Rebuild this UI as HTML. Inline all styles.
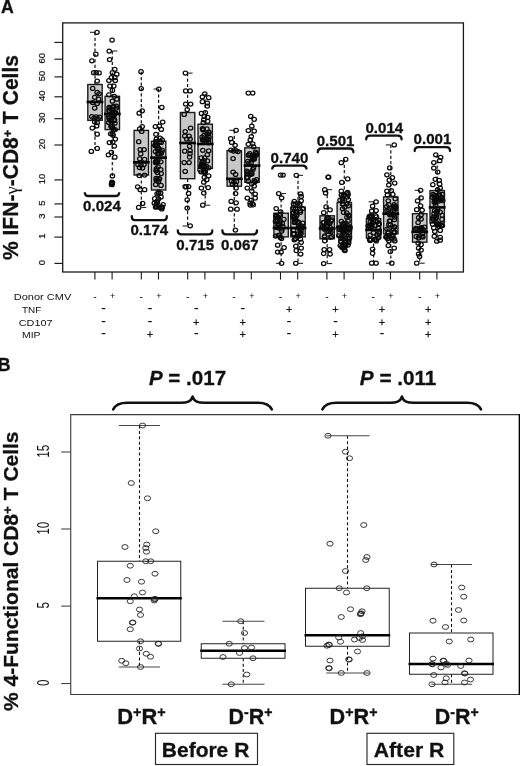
<!DOCTYPE html>
<html><head><meta charset="utf-8"><title>Figure</title><style>
html,body{margin:0;padding:0;background:#fff;}
svg{display:block;font-family:"Liberation Sans", Arial, sans-serif;will-change:transform;}
text{fill:#111;}
.gm{font-family:"Liberation Serif",serif;}
.pa ellipse{fill:none;stroke:#0a0a0a;stroke-width:1.25;}
.pa .wh{stroke:#111;stroke-width:1.2;stroke-dasharray:3.2 2.2;}
.pa .cap{stroke:#111;stroke-width:1;}
.pa .bx{fill:#c8c8c8;stroke:#1c1c1c;stroke-width:1.4;}
.pa .md{stroke:#000;stroke-width:2.6;}
.br{fill:none;stroke:#111;stroke-width:2.3;stroke-linecap:round;}
.brc{fill:none;stroke:#111;stroke-width:2.6;stroke-linecap:round;stroke-linejoin:round;}
text[font-weight=bold]{stroke:#111;stroke-width:0.3;}
.pb ellipse{fill:none;stroke:#222;stroke-width:0.9;}
.pb .wh{stroke:#111;stroke-width:1.1;stroke-dasharray:3 2.4;}
.pb .cap{stroke:#333;stroke-width:0.9;}
.pb .bx{fill:none;stroke:#222;stroke-width:1;}
.pb .md{stroke:#000;stroke-width:2.5;}
</style></head>
<body><svg width="520" height="766" viewBox="0 0 520 766">
<rect width="520" height="766" fill="#fff"/>
<rect x="62.7" y="22.9" width="400.7" height="249.1" fill="none" stroke="#1a1a1a" stroke-width="1.3"/>
<line x1="54.4" y1="263.4" x2="62.7" y2="263.4" stroke="#1a1a1a" stroke-width="1.15"/>
<text transform="translate(44.9,262.5) rotate(-90)" text-anchor="middle" font-size="8.5" fill="#111" stroke="#111" stroke-width="0.2" textLength="5.25" lengthAdjust="spacingAndGlyphs">0</text>
<line x1="54.4" y1="237.1" x2="62.7" y2="237.1" stroke="#1a1a1a" stroke-width="1.15"/>
<text transform="translate(44.9,236.2) rotate(-90)" text-anchor="middle" font-size="8.5" fill="#111" stroke="#111" stroke-width="0.2" textLength="5.25" lengthAdjust="spacingAndGlyphs">1</text>
<line x1="54.4" y1="217.0" x2="62.7" y2="217.0" stroke="#1a1a1a" stroke-width="1.15"/>
<text transform="translate(44.9,216.1) rotate(-90)" text-anchor="middle" font-size="8.5" fill="#111" stroke="#111" stroke-width="0.2" textLength="5.25" lengthAdjust="spacingAndGlyphs">3</text>
<line x1="54.4" y1="203.9" x2="62.7" y2="203.9" stroke="#1a1a1a" stroke-width="1.15"/>
<text transform="translate(44.9,203.0) rotate(-90)" text-anchor="middle" font-size="8.5" fill="#111" stroke="#111" stroke-width="0.2" textLength="5.25" lengthAdjust="spacingAndGlyphs">5</text>
<line x1="54.4" y1="179.9" x2="62.7" y2="179.9" stroke="#1a1a1a" stroke-width="1.15"/>
<text transform="translate(44.9,179.0) rotate(-90)" text-anchor="middle" font-size="8.5" fill="#111" stroke="#111" stroke-width="0.2" textLength="10.5" lengthAdjust="spacingAndGlyphs">10</text>
<line x1="54.4" y1="145.0" x2="62.7" y2="145.0" stroke="#1a1a1a" stroke-width="1.15"/>
<text transform="translate(44.9,144.1) rotate(-90)" text-anchor="middle" font-size="8.5" fill="#111" stroke="#111" stroke-width="0.2" textLength="10.5" lengthAdjust="spacingAndGlyphs">20</text>
<line x1="54.4" y1="118.7" x2="62.7" y2="118.7" stroke="#1a1a1a" stroke-width="1.15"/>
<text transform="translate(44.9,117.8) rotate(-90)" text-anchor="middle" font-size="8.5" fill="#111" stroke="#111" stroke-width="0.2" textLength="10.5" lengthAdjust="spacingAndGlyphs">30</text>
<line x1="54.4" y1="96.8" x2="62.7" y2="96.8" stroke="#1a1a1a" stroke-width="1.15"/>
<text transform="translate(44.9,95.8) rotate(-90)" text-anchor="middle" font-size="8.5" fill="#111" stroke="#111" stroke-width="0.2" textLength="10.5" lengthAdjust="spacingAndGlyphs">40</text>
<line x1="54.4" y1="76.9" x2="62.7" y2="76.9" stroke="#1a1a1a" stroke-width="1.15"/>
<text transform="translate(44.9,76.0) rotate(-90)" text-anchor="middle" font-size="8.5" fill="#111" stroke="#111" stroke-width="0.2" textLength="10.5" lengthAdjust="spacingAndGlyphs">50</text>
<line x1="54.4" y1="59.2" x2="62.7" y2="59.2" stroke="#1a1a1a" stroke-width="1.15"/>
<text transform="translate(44.9,58.3) rotate(-90)" text-anchor="middle" font-size="8.5" fill="#111" stroke="#111" stroke-width="0.2" textLength="10.5" lengthAdjust="spacingAndGlyphs">60</text>
<line x1="54.4" y1="42.4" x2="62.7" y2="42.4" stroke="#1a1a1a" stroke-width="1.15"/>
<line x1="94.9" y1="272.0" x2="94.9" y2="279.6" stroke="#1a1a1a" stroke-width="1.1"/>
<line x1="112.1" y1="272.0" x2="112.1" y2="279.6" stroke="#1a1a1a" stroke-width="1.1"/>
<line x1="141.3" y1="272.0" x2="141.3" y2="279.6" stroke="#1a1a1a" stroke-width="1.1"/>
<line x1="158.5" y1="272.0" x2="158.5" y2="279.6" stroke="#1a1a1a" stroke-width="1.1"/>
<line x1="187.7" y1="272.0" x2="187.7" y2="279.6" stroke="#1a1a1a" stroke-width="1.1"/>
<line x1="204.9" y1="272.0" x2="204.9" y2="279.6" stroke="#1a1a1a" stroke-width="1.1"/>
<line x1="234.1" y1="272.0" x2="234.1" y2="279.6" stroke="#1a1a1a" stroke-width="1.1"/>
<line x1="251.3" y1="272.0" x2="251.3" y2="279.6" stroke="#1a1a1a" stroke-width="1.1"/>
<line x1="280.5" y1="272.0" x2="280.5" y2="279.6" stroke="#1a1a1a" stroke-width="1.1"/>
<line x1="297.7" y1="272.0" x2="297.7" y2="279.6" stroke="#1a1a1a" stroke-width="1.1"/>
<line x1="326.9" y1="272.0" x2="326.9" y2="279.6" stroke="#1a1a1a" stroke-width="1.1"/>
<line x1="344.1" y1="272.0" x2="344.1" y2="279.6" stroke="#1a1a1a" stroke-width="1.1"/>
<line x1="373.3" y1="272.0" x2="373.3" y2="279.6" stroke="#1a1a1a" stroke-width="1.1"/>
<line x1="390.5" y1="272.0" x2="390.5" y2="279.6" stroke="#1a1a1a" stroke-width="1.1"/>
<line x1="419.7" y1="272.0" x2="419.7" y2="279.6" stroke="#1a1a1a" stroke-width="1.1"/>
<line x1="436.9" y1="272.0" x2="436.9" y2="279.6" stroke="#1a1a1a" stroke-width="1.1"/>
<g class="pa"><line x1="95.0" y1="32.3" x2="95.0" y2="84.5" class="wh"/><line x1="95.0" y1="120.3" x2="95.0" y2="149.4" class="wh"/><line x1="90.0" y1="32.3" x2="95.0" y2="32.3" class="cap"/><rect x="87.8" y="84.5" width="14.4" height="35.8" class="bx"/><line x1="86.6" y1="102" x2="103.4" y2="102" class="md"/><ellipse cx="97.0" cy="32.3" rx="2.2" ry="2.0"/><ellipse cx="95.8" cy="54.2" rx="2.2" ry="2.0"/><ellipse cx="91.9" cy="60.8" rx="2.2" ry="2.0"/><ellipse cx="93.7" cy="72.7" rx="2.2" ry="2.0"/><ellipse cx="96.2" cy="72.7" rx="2.2" ry="2.0"/><ellipse cx="99.1" cy="72.9" rx="2.2" ry="2.0"/><ellipse cx="97.2" cy="81.0" rx="2.2" ry="2.0"/><ellipse cx="92.7" cy="88.4" rx="2.2" ry="2.0"/><ellipse cx="97.2" cy="92.4" rx="2.2" ry="2.0"/><ellipse cx="99.1" cy="93.8" rx="2.2" ry="2.0"/><ellipse cx="94.7" cy="97.3" rx="2.2" ry="2.0"/><ellipse cx="98.6" cy="99.2" rx="2.2" ry="2.0"/><ellipse cx="92.7" cy="102.6" rx="2.2" ry="2.0"/><ellipse cx="97.2" cy="103.6" rx="2.2" ry="2.0"/><ellipse cx="94.7" cy="108.0" rx="2.2" ry="2.0"/><ellipse cx="91.8" cy="116.5" rx="2.2" ry="2.0"/><ellipse cx="94.0" cy="118.0" rx="2.2" ry="2.0"/><ellipse cx="96.0" cy="116.8" rx="2.2" ry="2.0"/><ellipse cx="98.0" cy="118.5" rx="2.2" ry="2.0"/><ellipse cx="99.6" cy="117.0" rx="2.2" ry="2.0"/><ellipse cx="94.7" cy="121.8" rx="2.2" ry="2.0"/><ellipse cx="97.2" cy="122.7" rx="2.2" ry="2.0"/><ellipse cx="92.3" cy="128.0" rx="2.2" ry="2.0"/><ellipse cx="96.7" cy="125.9" rx="2.2" ry="2.0"/><ellipse cx="97.2" cy="134.2" rx="2.2" ry="2.0"/><ellipse cx="91.3" cy="151.4" rx="2.2" ry="2.0"/><ellipse cx="97.2" cy="148.4" rx="2.2" ry="2.0"/><line x1="112.3" y1="51" x2="112.3" y2="96.3" class="wh"/><line x1="112.3" y1="129.6" x2="112.3" y2="175.9" class="wh"/><line x1="112.3" y1="51" x2="117.3" y2="51" class="cap"/><rect x="105.1" y="96.3" width="14.4" height="33.3" class="bx"/><line x1="103.9" y1="113.9" x2="120.7" y2="113.9" class="md"/><ellipse cx="112.1" cy="40.0" rx="2.2" ry="2.0"/><ellipse cx="109.2" cy="51.0" rx="2.2" ry="2.0"/><ellipse cx="109.6" cy="59.6" rx="2.2" ry="2.0"/><ellipse cx="114.8" cy="69.3" rx="2.2" ry="2.0"/><ellipse cx="112.4" cy="72.7" rx="2.2" ry="2.0"/><ellipse cx="116.8" cy="74.2" rx="2.2" ry="2.0"/><ellipse cx="111.4" cy="77.6" rx="2.2" ry="2.0"/><ellipse cx="114.8" cy="77.6" rx="2.2" ry="2.0"/><ellipse cx="108.9" cy="80.6" rx="2.2" ry="2.0"/><ellipse cx="115.3" cy="80.6" rx="2.2" ry="2.0"/><ellipse cx="109.9" cy="86.0" rx="2.2" ry="2.0"/><ellipse cx="113.8" cy="86.0" rx="2.2" ry="2.0"/><ellipse cx="112.4" cy="90.4" rx="2.2" ry="2.0"/><ellipse cx="108.9" cy="94.8" rx="2.2" ry="2.0"/><ellipse cx="114.3" cy="96.3" rx="2.2" ry="2.0"/><ellipse cx="116.8" cy="99.2" rx="2.2" ry="2.0"/><ellipse cx="112.4" cy="101.2" rx="2.2" ry="2.0"/><ellipse cx="115.3" cy="139.1" rx="2.2" ry="2.0"/><ellipse cx="109.4" cy="142.5" rx="2.2" ry="2.0"/><ellipse cx="112.8" cy="142.0" rx="2.2" ry="2.0"/><ellipse cx="114.3" cy="146.0" rx="2.2" ry="2.0"/><ellipse cx="108.4" cy="154.8" rx="2.2" ry="2.0"/><ellipse cx="111.4" cy="152.4" rx="2.2" ry="2.0"/><ellipse cx="114.8" cy="157.2" rx="2.2" ry="2.0"/><ellipse cx="112.4" cy="175.9" rx="2.2" ry="2.0"/><ellipse cx="111.9" cy="182.2" rx="2.2" ry="2.0"/><ellipse cx="111.9" cy="184.7" rx="2.2" ry="2.0"/><ellipse cx="112.4" cy="182.5" rx="2.2" ry="2.0"/><ellipse cx="111.5" cy="184.4" rx="2.2" ry="2.0"/><ellipse cx="112.2" cy="183.5" rx="2.2" ry="2.0"/><ellipse cx="111.1" cy="108.9" rx="2.2" ry="2.0"/><ellipse cx="113.7" cy="106.9" rx="2.2" ry="2.0"/><ellipse cx="112.8" cy="114.5" rx="2.2" ry="2.0"/><ellipse cx="109.0" cy="118.2" rx="2.2" ry="2.0"/><ellipse cx="108.8" cy="116.3" rx="2.2" ry="2.0"/><ellipse cx="109.1" cy="107.4" rx="2.2" ry="2.0"/><ellipse cx="111.9" cy="126.5" rx="2.2" ry="2.0"/><ellipse cx="109.5" cy="110.8" rx="2.2" ry="2.0"/><ellipse cx="113.5" cy="129.6" rx="2.2" ry="2.0"/><ellipse cx="113.1" cy="115.3" rx="2.2" ry="2.0"/><ellipse cx="116.3" cy="106.2" rx="2.2" ry="2.0"/><ellipse cx="115.4" cy="112.5" rx="2.2" ry="2.0"/><ellipse cx="109.7" cy="108.1" rx="2.2" ry="2.0"/><ellipse cx="111.0" cy="126.2" rx="2.2" ry="2.0"/><ellipse cx="109.9" cy="120.1" rx="2.2" ry="2.0"/><ellipse cx="113.6" cy="114.7" rx="2.2" ry="2.0"/><ellipse cx="112.9" cy="106.6" rx="2.2" ry="2.0"/><ellipse cx="109.0" cy="110.4" rx="2.2" ry="2.0"/><ellipse cx="113.9" cy="116.1" rx="2.2" ry="2.0"/><ellipse cx="111.0" cy="120.2" rx="2.2" ry="2.0"/><ellipse cx="112.1" cy="112.8" rx="2.2" ry="2.0"/><ellipse cx="114.9" cy="123.2" rx="2.2" ry="2.0"/><ellipse cx="110.5" cy="119.9" rx="2.2" ry="2.0"/><ellipse cx="112.7" cy="127.8" rx="2.2" ry="2.0"/><ellipse cx="114.3" cy="112.5" rx="2.2" ry="2.0"/><ellipse cx="116.3" cy="108.1" rx="2.2" ry="2.0"/><ellipse cx="111.8" cy="124.7" rx="2.2" ry="2.0"/><ellipse cx="109.7" cy="117.7" rx="2.2" ry="2.0"/><ellipse cx="108.8" cy="122.4" rx="2.2" ry="2.0"/><ellipse cx="114.6" cy="119.9" rx="2.2" ry="2.0"/><ellipse cx="115.5" cy="113.2" rx="2.2" ry="2.0"/><ellipse cx="114.1" cy="120.5" rx="2.2" ry="2.0"/><ellipse cx="113.1" cy="116.9" rx="2.2" ry="2.0"/><ellipse cx="115.2" cy="129.6" rx="2.2" ry="2.0"/><ellipse cx="112.4" cy="133.7" rx="2.2" ry="2.0"/><ellipse cx="110.7" cy="133.8" rx="2.2" ry="2.0"/><ellipse cx="113.1" cy="135.0" rx="2.2" ry="2.0"/><line x1="141.3" y1="71.7" x2="141.3" y2="130.4" class="wh"/><line x1="141.3" y1="175" x2="141.3" y2="207.4" class="wh"/><line x1="141.3" y1="207.4" x2="146.3" y2="207.4" class="cap"/><rect x="134.1" y="130.4" width="14.4" height="44.6" class="bx"/><line x1="132.9" y1="162.3" x2="149.7" y2="162.3" class="md"/><ellipse cx="141.0" cy="71.7" rx="2.2" ry="2.0"/><ellipse cx="141.2" cy="88.5" rx="2.2" ry="2.0"/><ellipse cx="139.2" cy="113.2" rx="2.2" ry="2.0"/><ellipse cx="142.2" cy="110.8" rx="2.2" ry="2.0"/><ellipse cx="142.2" cy="126.5" rx="2.2" ry="2.0"/><ellipse cx="139.7" cy="128.9" rx="2.2" ry="2.0"/><ellipse cx="141.7" cy="131.4" rx="2.2" ry="2.0"/><ellipse cx="138.7" cy="141.7" rx="2.2" ry="2.0"/><ellipse cx="140.2" cy="149.5" rx="2.2" ry="2.0"/><ellipse cx="144.1" cy="149.5" rx="2.2" ry="2.0"/><ellipse cx="140.7" cy="153.9" rx="2.2" ry="2.0"/><ellipse cx="139.7" cy="158.8" rx="2.2" ry="2.0"/><ellipse cx="144.6" cy="159.3" rx="2.2" ry="2.0"/><ellipse cx="138.0" cy="164.5" rx="2.2" ry="2.0"/><ellipse cx="141.0" cy="165.0" rx="2.2" ry="2.0"/><ellipse cx="144.0" cy="164.5" rx="2.2" ry="2.0"/><ellipse cx="139.5" cy="167.5" rx="2.2" ry="2.0"/><ellipse cx="142.5" cy="168.0" rx="2.2" ry="2.0"/><ellipse cx="139.2" cy="175.5" rx="2.2" ry="2.0"/><ellipse cx="144.6" cy="175.0" rx="2.2" ry="2.0"/><ellipse cx="137.7" cy="186.8" rx="2.2" ry="2.0"/><ellipse cx="140.2" cy="189.7" rx="2.2" ry="2.0"/><ellipse cx="144.6" cy="189.7" rx="2.2" ry="2.0"/><ellipse cx="142.6" cy="203.4" rx="2.2" ry="2.0"/><ellipse cx="138.7" cy="207.4" rx="2.2" ry="2.0"/><line x1="158.6" y1="89" x2="158.6" y2="141.2" class="wh"/><line x1="158.6" y1="190" x2="158.6" y2="209" class="wh"/><line x1="153.6" y1="89" x2="158.6" y2="89" class="cap"/><rect x="151.4" y="141.2" width="14.4" height="48.8" class="bx"/><line x1="150.2" y1="157.6" x2="167.0" y2="157.6" class="md"/><ellipse cx="158.8" cy="89.0" rx="2.2" ry="2.0"/><ellipse cx="161.8" cy="107.4" rx="2.2" ry="2.0"/><ellipse cx="162.7" cy="122.0" rx="2.2" ry="2.0"/><ellipse cx="155.4" cy="126.5" rx="2.2" ry="2.0"/><ellipse cx="159.3" cy="126.0" rx="2.2" ry="2.0"/><ellipse cx="161.3" cy="129.4" rx="2.2" ry="2.0"/><ellipse cx="155.9" cy="134.3" rx="2.2" ry="2.0"/><ellipse cx="156.4" cy="161.8" rx="2.2" ry="2.0"/><ellipse cx="160.8" cy="161.8" rx="2.2" ry="2.0"/><ellipse cx="156.4" cy="168.6" rx="2.2" ry="2.0"/><ellipse cx="160.8" cy="169.6" rx="2.2" ry="2.0"/><ellipse cx="157.4" cy="172.5" rx="2.2" ry="2.0"/><ellipse cx="156.4" cy="170.1" rx="2.2" ry="2.0"/><ellipse cx="161.2" cy="142.4" rx="2.2" ry="2.0"/><ellipse cx="157.9" cy="149.7" rx="2.2" ry="2.0"/><ellipse cx="155.2" cy="145.8" rx="2.2" ry="2.0"/><ellipse cx="156.3" cy="139.2" rx="2.2" ry="2.0"/><ellipse cx="155.4" cy="151.6" rx="2.2" ry="2.0"/><ellipse cx="156.0" cy="141.7" rx="2.2" ry="2.0"/><ellipse cx="157.9" cy="153.6" rx="2.2" ry="2.0"/><ellipse cx="155.6" cy="145.5" rx="2.2" ry="2.0"/><ellipse cx="159.1" cy="153.8" rx="2.2" ry="2.0"/><ellipse cx="161.1" cy="153.4" rx="2.2" ry="2.0"/><ellipse cx="157.1" cy="144.9" rx="2.2" ry="2.0"/><ellipse cx="157.7" cy="153.8" rx="2.2" ry="2.0"/><ellipse cx="162.2" cy="139.9" rx="2.2" ry="2.0"/><ellipse cx="156.3" cy="141.4" rx="2.2" ry="2.0"/><ellipse cx="156.8" cy="146.2" rx="2.2" ry="2.0"/><ellipse cx="159.4" cy="142.0" rx="2.2" ry="2.0"/><ellipse cx="155.0" cy="145.0" rx="2.2" ry="2.0"/><ellipse cx="157.8" cy="147.8" rx="2.2" ry="2.0"/><ellipse cx="162.1" cy="150.1" rx="2.2" ry="2.0"/><ellipse cx="158.9" cy="148.7" rx="2.2" ry="2.0"/><ellipse cx="160.1" cy="138.0" rx="2.2" ry="2.0"/><ellipse cx="161.7" cy="151.8" rx="2.2" ry="2.0"/><ellipse cx="161.2" cy="173.6" rx="2.2" ry="2.0"/><ellipse cx="158.1" cy="166.8" rx="2.2" ry="2.0"/><ellipse cx="156.2" cy="170.8" rx="2.2" ry="2.0"/><ellipse cx="155.9" cy="161.1" rx="2.2" ry="2.0"/><ellipse cx="156.9" cy="162.8" rx="2.2" ry="2.0"/><ellipse cx="157.7" cy="160.9" rx="2.2" ry="2.0"/><ellipse cx="155.5" cy="162.6" rx="2.2" ry="2.0"/><ellipse cx="156.2" cy="180.4" rx="2.2" ry="2.0"/><ellipse cx="155.7" cy="184.5" rx="2.2" ry="2.0"/><ellipse cx="159.5" cy="178.7" rx="2.2" ry="2.0"/><ellipse cx="157.1" cy="180.3" rx="2.2" ry="2.0"/><ellipse cx="157.9" cy="178.5" rx="2.2" ry="2.0"/><ellipse cx="161.0" cy="185.4" rx="2.2" ry="2.0"/><ellipse cx="158.5" cy="181.4" rx="2.2" ry="2.0"/><ellipse cx="156.1" cy="178.3" rx="2.2" ry="2.0"/><ellipse cx="157.1" cy="193.9" rx="2.2" ry="2.0"/><ellipse cx="160.7" cy="193.1" rx="2.2" ry="2.0"/><ellipse cx="154.7" cy="198.7" rx="2.2" ry="2.0"/><ellipse cx="158.5" cy="193.0" rx="2.2" ry="2.0"/><ellipse cx="158.6" cy="192.2" rx="2.2" ry="2.0"/><ellipse cx="158.5" cy="198.8" rx="2.2" ry="2.0"/><ellipse cx="161.0" cy="196.9" rx="2.2" ry="2.0"/><ellipse cx="156.5" cy="203.9" rx="2.2" ry="2.0"/><ellipse cx="155.6" cy="207.2" rx="2.2" ry="2.0"/><ellipse cx="159.1" cy="207.2" rx="2.2" ry="2.0"/><ellipse cx="157.1" cy="202.8" rx="2.2" ry="2.0"/><ellipse cx="161.7" cy="208.9" rx="2.2" ry="2.0"/><ellipse cx="162.1" cy="207.4" rx="2.2" ry="2.0"/><ellipse cx="161.8" cy="206.9" rx="2.2" ry="2.0"/><ellipse cx="156.2" cy="205.1" rx="2.2" ry="2.0"/><ellipse cx="157.4" cy="201.2" rx="2.2" ry="2.0"/><ellipse cx="154.3" cy="203.2" rx="2.2" ry="2.0"/><ellipse cx="156.5" cy="206.5" rx="2.2" ry="2.0"/><ellipse cx="163.1" cy="204.6" rx="2.2" ry="2.0"/><line x1="187.6" y1="73.1" x2="187.6" y2="112.5" class="wh"/><line x1="187.6" y1="178.7" x2="187.6" y2="226" class="wh"/><line x1="187.6" y1="73.1" x2="192.6" y2="73.1" class="cap"/><line x1="182.6" y1="226" x2="187.6" y2="226" class="cap"/><rect x="180.4" y="112.5" width="14.4" height="66.2" class="bx"/><line x1="179.2" y1="143" x2="196.0" y2="143" class="md"/><ellipse cx="185.4" cy="73.1" rx="2.2" ry="2.0"/><ellipse cx="185.7" cy="90.9" rx="2.2" ry="2.0"/><ellipse cx="190.1" cy="90.9" rx="2.2" ry="2.0"/><ellipse cx="185.7" cy="104.1" rx="2.2" ry="2.0"/><ellipse cx="190.6" cy="104.1" rx="2.2" ry="2.0"/><ellipse cx="187.2" cy="109.5" rx="2.2" ry="2.0"/><ellipse cx="184.2" cy="114.4" rx="2.2" ry="2.0"/><ellipse cx="190.6" cy="128.1" rx="2.2" ry="2.0"/><ellipse cx="185.2" cy="131.6" rx="2.2" ry="2.0"/><ellipse cx="184.7" cy="136.0" rx="2.2" ry="2.0"/><ellipse cx="189.1" cy="136.0" rx="2.2" ry="2.0"/><ellipse cx="186.7" cy="139.0" rx="2.2" ry="2.0"/><ellipse cx="190.1" cy="139.0" rx="2.2" ry="2.0"/><ellipse cx="189.6" cy="146.3" rx="2.2" ry="2.0"/><ellipse cx="184.7" cy="151.2" rx="2.2" ry="2.0"/><ellipse cx="190.1" cy="150.5" rx="2.2" ry="2.0"/><ellipse cx="190.0" cy="153.7" rx="2.2" ry="2.0"/><ellipse cx="189.6" cy="157.0" rx="2.2" ry="2.0"/><ellipse cx="184.2" cy="162.5" rx="2.2" ry="2.0"/><ellipse cx="189.1" cy="162.5" rx="2.2" ry="2.0"/><ellipse cx="185.2" cy="171.4" rx="2.2" ry="2.0"/><ellipse cx="185.2" cy="186.6" rx="2.2" ry="2.0"/><ellipse cx="188.6" cy="186.6" rx="2.2" ry="2.0"/><ellipse cx="186.0" cy="186.9" rx="2.2" ry="2.0"/><ellipse cx="188.6" cy="193.4" rx="2.2" ry="2.0"/><ellipse cx="187.2" cy="199.8" rx="2.2" ry="2.0"/><ellipse cx="187.2" cy="208.1" rx="2.2" ry="2.0"/><ellipse cx="190.2" cy="225.8" rx="2.2" ry="2.0"/><line x1="205.2" y1="93.8" x2="205.2" y2="124.2" class="wh"/><line x1="205.2" y1="168.4" x2="205.2" y2="205.2" class="wh"/><line x1="205.2" y1="205.2" x2="210.2" y2="205.2" class="cap"/><rect x="198.0" y="124.2" width="14.4" height="44.2" class="bx"/><line x1="196.8" y1="144" x2="213.6" y2="144" class="md"/><ellipse cx="204.8" cy="93.8" rx="2.2" ry="2.0"/><ellipse cx="202.4" cy="96.8" rx="2.2" ry="2.0"/><ellipse cx="208.7" cy="97.7" rx="2.2" ry="2.0"/><ellipse cx="202.4" cy="101.7" rx="2.2" ry="2.0"/><ellipse cx="207.3" cy="103.1" rx="2.2" ry="2.0"/><ellipse cx="207.3" cy="106.1" rx="2.2" ry="2.0"/><ellipse cx="201.4" cy="113.4" rx="2.2" ry="2.0"/><ellipse cx="205.3" cy="112.5" rx="2.2" ry="2.0"/><ellipse cx="204.3" cy="116.4" rx="2.2" ry="2.0"/><ellipse cx="207.7" cy="117.4" rx="2.2" ry="2.0"/><ellipse cx="203.8" cy="119.8" rx="2.2" ry="2.0"/><ellipse cx="207.7" cy="121.3" rx="2.2" ry="2.0"/><ellipse cx="203.3" cy="122.7" rx="2.2" ry="2.0"/><ellipse cx="202.8" cy="150.3" rx="2.2" ry="2.0"/><ellipse cx="208.7" cy="150.8" rx="2.2" ry="2.0"/><ellipse cx="207.3" cy="154.7" rx="2.2" ry="2.0"/><ellipse cx="208.7" cy="175.8" rx="2.2" ry="2.0"/><ellipse cx="204.3" cy="177.3" rx="2.2" ry="2.0"/><ellipse cx="206.8" cy="179.7" rx="2.2" ry="2.0"/><ellipse cx="203.8" cy="182.2" rx="2.2" ry="2.0"/><ellipse cx="201.4" cy="188.0" rx="2.2" ry="2.0"/><ellipse cx="208.2" cy="187.5" rx="2.2" ry="2.0"/><ellipse cx="203.8" cy="193.0" rx="2.2" ry="2.0"/><ellipse cx="202.8" cy="205.2" rx="2.2" ry="2.0"/><ellipse cx="208.5" cy="142.8" rx="2.2" ry="2.0"/><ellipse cx="208.7" cy="132.2" rx="2.2" ry="2.0"/><ellipse cx="203.2" cy="129.9" rx="2.2" ry="2.0"/><ellipse cx="203.0" cy="129.5" rx="2.2" ry="2.0"/><ellipse cx="206.2" cy="141.3" rx="2.2" ry="2.0"/><ellipse cx="207.8" cy="134.2" rx="2.2" ry="2.0"/><ellipse cx="206.4" cy="139.6" rx="2.2" ry="2.0"/><ellipse cx="202.1" cy="137.2" rx="2.2" ry="2.0"/><ellipse cx="208.3" cy="139.3" rx="2.2" ry="2.0"/><ellipse cx="207.1" cy="134.1" rx="2.2" ry="2.0"/><ellipse cx="202.8" cy="139.4" rx="2.2" ry="2.0"/><ellipse cx="204.0" cy="139.6" rx="2.2" ry="2.0"/><ellipse cx="208.8" cy="132.7" rx="2.2" ry="2.0"/><ellipse cx="204.5" cy="142.1" rx="2.2" ry="2.0"/><ellipse cx="206.9" cy="128.9" rx="2.2" ry="2.0"/><ellipse cx="202.5" cy="128.6" rx="2.2" ry="2.0"/><ellipse cx="208.3" cy="139.7" rx="2.2" ry="2.0"/><ellipse cx="202.6" cy="140.1" rx="2.2" ry="2.0"/><ellipse cx="208.9" cy="137.2" rx="2.2" ry="2.0"/><ellipse cx="204.1" cy="135.3" rx="2.2" ry="2.0"/><ellipse cx="201.2" cy="157.8" rx="2.2" ry="2.0"/><ellipse cx="208.7" cy="167.8" rx="2.2" ry="2.0"/><ellipse cx="204.7" cy="172.3" rx="2.2" ry="2.0"/><ellipse cx="203.9" cy="171.3" rx="2.2" ry="2.0"/><ellipse cx="207.4" cy="160.9" rx="2.2" ry="2.0"/><ellipse cx="202.3" cy="162.2" rx="2.2" ry="2.0"/><ellipse cx="202.2" cy="166.8" rx="2.2" ry="2.0"/><ellipse cx="202.3" cy="164.2" rx="2.2" ry="2.0"/><ellipse cx="201.2" cy="171.9" rx="2.2" ry="2.0"/><ellipse cx="203.2" cy="164.8" rx="2.2" ry="2.0"/><ellipse cx="205.3" cy="171.8" rx="2.2" ry="2.0"/><ellipse cx="203.8" cy="172.0" rx="2.2" ry="2.0"/><ellipse cx="204.5" cy="165.9" rx="2.2" ry="2.0"/><ellipse cx="204.7" cy="157.9" rx="2.2" ry="2.0"/><ellipse cx="204.0" cy="160.5" rx="2.2" ry="2.0"/><ellipse cx="200.0" cy="170.1" rx="2.2" ry="2.0"/><ellipse cx="201.6" cy="165.0" rx="2.2" ry="2.0"/><ellipse cx="206.5" cy="166.3" rx="2.2" ry="2.0"/><ellipse cx="202.9" cy="165.7" rx="2.2" ry="2.0"/><ellipse cx="205.0" cy="169.9" rx="2.2" ry="2.0"/><ellipse cx="201.0" cy="166.4" rx="2.2" ry="2.0"/><ellipse cx="202.2" cy="161.9" rx="2.2" ry="2.0"/><line x1="234.3" y1="130.3" x2="234.3" y2="150.6" class="wh"/><line x1="234.3" y1="186.2" x2="234.3" y2="230" class="wh"/><line x1="229.3" y1="130.3" x2="234.3" y2="130.3" class="cap"/><rect x="227.1" y="150.6" width="14.4" height="35.6" class="bx"/><line x1="225.9" y1="178.8" x2="242.7" y2="178.8" class="md"/><ellipse cx="236.1" cy="130.3" rx="2.2" ry="2.0"/><ellipse cx="230.7" cy="138.7" rx="2.2" ry="2.0"/><ellipse cx="231.7" cy="142.4" rx="2.2" ry="2.0"/><ellipse cx="235.1" cy="145.3" rx="2.2" ry="2.0"/><ellipse cx="231.0" cy="150.0" rx="2.2" ry="2.0"/><ellipse cx="233.5" cy="151.0" rx="2.2" ry="2.0"/><ellipse cx="236.0" cy="150.5" rx="2.2" ry="2.0"/><ellipse cx="238.0" cy="151.5" rx="2.2" ry="2.0"/><ellipse cx="233.1" cy="158.6" rx="2.2" ry="2.0"/><ellipse cx="233.1" cy="172.0" rx="2.2" ry="2.0"/><ellipse cx="235.6" cy="174.4" rx="2.2" ry="2.0"/><ellipse cx="231.5" cy="181.0" rx="2.2" ry="2.0"/><ellipse cx="234.0" cy="182.0" rx="2.2" ry="2.0"/><ellipse cx="236.5" cy="181.5" rx="2.2" ry="2.0"/><ellipse cx="232.5" cy="184.0" rx="2.2" ry="2.0"/><ellipse cx="235.5" cy="184.5" rx="2.2" ry="2.0"/><ellipse cx="236.1" cy="188.1" rx="2.2" ry="2.0"/><ellipse cx="235.6" cy="193.5" rx="2.2" ry="2.0"/><ellipse cx="231.2" cy="201.4" rx="2.2" ry="2.0"/><ellipse cx="236.1" cy="202.8" rx="2.2" ry="2.0"/><ellipse cx="230.7" cy="209.2" rx="2.2" ry="2.0"/><ellipse cx="237.1" cy="209.2" rx="2.2" ry="2.0"/><ellipse cx="235.4" cy="230.0" rx="2.2" ry="2.0"/><line x1="252.0" y1="116.4" x2="252.0" y2="147.8" class="wh"/><line x1="252.0" y1="182.3" x2="252.0" y2="205" class="wh"/><rect x="244.8" y="147.8" width="14.4" height="34.5" class="bx"/><line x1="243.6" y1="165.6" x2="260.4" y2="165.6" class="md"/><ellipse cx="248.3" cy="93.0" rx="2.2" ry="2.0"/><ellipse cx="252.7" cy="93.0" rx="2.2" ry="2.0"/><ellipse cx="250.8" cy="116.4" rx="2.2" ry="2.0"/><ellipse cx="254.2" cy="119.3" rx="2.2" ry="2.0"/><ellipse cx="251.8" cy="126.2" rx="2.2" ry="2.0"/><ellipse cx="248.3" cy="130.6" rx="2.2" ry="2.0"/><ellipse cx="254.2" cy="131.1" rx="2.2" ry="2.0"/><ellipse cx="251.3" cy="136.5" rx="2.2" ry="2.0"/><ellipse cx="250.3" cy="139.9" rx="2.2" ry="2.0"/><ellipse cx="248.3" cy="144.3" rx="2.2" ry="2.0"/><ellipse cx="252.7" cy="143.8" rx="2.2" ry="2.0"/><ellipse cx="253.7" cy="146.8" rx="2.2" ry="2.0"/><ellipse cx="247.3" cy="188.0" rx="2.2" ry="2.0"/><ellipse cx="251.8" cy="184.0" rx="2.2" ry="2.0"/><ellipse cx="254.2" cy="186.0" rx="2.2" ry="2.0"/><ellipse cx="251.8" cy="191.0" rx="2.2" ry="2.0"/><ellipse cx="255.2" cy="194.0" rx="2.2" ry="2.0"/><ellipse cx="247.3" cy="198.0" rx="2.2" ry="2.0"/><ellipse cx="251.3" cy="200.0" rx="2.2" ry="2.0"/><ellipse cx="255.2" cy="198.0" rx="2.2" ry="2.0"/><ellipse cx="255.0" cy="155.6" rx="2.2" ry="2.0"/><ellipse cx="253.1" cy="157.8" rx="2.2" ry="2.0"/><ellipse cx="256.2" cy="155.0" rx="2.2" ry="2.0"/><ellipse cx="253.5" cy="155.5" rx="2.2" ry="2.0"/><ellipse cx="252.6" cy="157.2" rx="2.2" ry="2.0"/><ellipse cx="252.1" cy="155.8" rx="2.2" ry="2.0"/><ellipse cx="252.3" cy="159.5" rx="2.2" ry="2.0"/><ellipse cx="254.3" cy="158.9" rx="2.2" ry="2.0"/><ellipse cx="256.5" cy="153.3" rx="2.2" ry="2.0"/><ellipse cx="253.0" cy="159.5" rx="2.2" ry="2.0"/><ellipse cx="255.6" cy="152.2" rx="2.2" ry="2.0"/><ellipse cx="249.1" cy="155.0" rx="2.2" ry="2.0"/><ellipse cx="246.8" cy="171.0" rx="2.2" ry="2.0"/><ellipse cx="246.8" cy="177.2" rx="2.2" ry="2.0"/><ellipse cx="254.2" cy="180.5" rx="2.2" ry="2.0"/><ellipse cx="247.6" cy="177.9" rx="2.2" ry="2.0"/><ellipse cx="252.9" cy="169.6" rx="2.2" ry="2.0"/><ellipse cx="255.3" cy="181.5" rx="2.2" ry="2.0"/><ellipse cx="248.3" cy="181.3" rx="2.2" ry="2.0"/><ellipse cx="250.2" cy="174.6" rx="2.2" ry="2.0"/><ellipse cx="256.4" cy="179.6" rx="2.2" ry="2.0"/><ellipse cx="247.7" cy="173.8" rx="2.2" ry="2.0"/><ellipse cx="251.4" cy="172.4" rx="2.2" ry="2.0"/><ellipse cx="248.1" cy="172.1" rx="2.2" ry="2.0"/><ellipse cx="253.6" cy="167.8" rx="2.2" ry="2.0"/><ellipse cx="251.8" cy="173.9" rx="2.2" ry="2.0"/><ellipse cx="250.1" cy="203.0" rx="2.2" ry="2.0"/><ellipse cx="252.5" cy="203.5" rx="2.2" ry="2.0"/><ellipse cx="250.3" cy="205.0" rx="2.2" ry="2.0"/><ellipse cx="253.2" cy="204.9" rx="2.2" ry="2.0"/><ellipse cx="248.4" cy="155.2" rx="2.2" ry="2.0"/><ellipse cx="247.8" cy="161.3" rx="2.2" ry="2.0"/><ellipse cx="249.8" cy="153.6" rx="2.2" ry="2.0"/><ellipse cx="251.1" cy="162.9" rx="2.2" ry="2.0"/><ellipse cx="254.5" cy="155.1" rx="2.2" ry="2.0"/><ellipse cx="248.8" cy="163.0" rx="2.2" ry="2.0"/><line x1="281.1" y1="193.6" x2="281.1" y2="213.2" class="wh"/><line x1="281.1" y1="236.9" x2="281.1" y2="263.3" class="wh"/><line x1="281.1" y1="193.6" x2="286.1" y2="193.6" class="cap"/><line x1="276.1" y1="263.3" x2="281.1" y2="263.3" class="cap"/><rect x="273.9" y="213.2" width="14.4" height="23.7" class="bx"/><line x1="272.7" y1="228" x2="289.5" y2="228" class="md"/><ellipse cx="280.6" cy="175.0" rx="2.2" ry="2.0"/><ellipse cx="283.1" cy="175.0" rx="2.2" ry="2.0"/><ellipse cx="278.7" cy="193.6" rx="2.2" ry="2.0"/><ellipse cx="281.6" cy="197.8" rx="2.2" ry="2.0"/><ellipse cx="277.7" cy="245.2" rx="2.2" ry="2.0"/><ellipse cx="284.1" cy="247.6" rx="2.2" ry="2.0"/><ellipse cx="277.7" cy="252.0" rx="2.2" ry="2.0"/><ellipse cx="281.1" cy="252.0" rx="2.2" ry="2.0"/><ellipse cx="281.6" cy="263.3" rx="2.2" ry="2.0"/><ellipse cx="279.8" cy="214.3" rx="2.2" ry="2.0"/><ellipse cx="276.2" cy="208.5" rx="2.2" ry="2.0"/><ellipse cx="280.7" cy="211.8" rx="2.2" ry="2.0"/><ellipse cx="276.0" cy="216.4" rx="2.2" ry="2.0"/><ellipse cx="280.3" cy="215.2" rx="2.2" ry="2.0"/><ellipse cx="276.1" cy="215.7" rx="2.2" ry="2.0"/><ellipse cx="275.6" cy="236.0" rx="2.2" ry="2.0"/><ellipse cx="279.3" cy="224.5" rx="2.2" ry="2.0"/><ellipse cx="280.3" cy="237.4" rx="2.2" ry="2.0"/><ellipse cx="277.5" cy="219.8" rx="2.2" ry="2.0"/><ellipse cx="280.0" cy="222.2" rx="2.2" ry="2.0"/><ellipse cx="276.0" cy="220.6" rx="2.2" ry="2.0"/><ellipse cx="275.5" cy="221.4" rx="2.2" ry="2.0"/><ellipse cx="278.0" cy="223.7" rx="2.2" ry="2.0"/><ellipse cx="282.2" cy="223.4" rx="2.2" ry="2.0"/><ellipse cx="279.8" cy="220.9" rx="2.2" ry="2.0"/><ellipse cx="278.3" cy="217.4" rx="2.2" ry="2.0"/><ellipse cx="277.4" cy="217.3" rx="2.2" ry="2.0"/><ellipse cx="282.0" cy="229.1" rx="2.2" ry="2.0"/><ellipse cx="276.8" cy="227.4" rx="2.2" ry="2.0"/><ellipse cx="283.9" cy="219.3" rx="2.2" ry="2.0"/><ellipse cx="282.8" cy="226.5" rx="2.2" ry="2.0"/><ellipse cx="279.7" cy="235.4" rx="2.2" ry="2.0"/><ellipse cx="278.7" cy="228.1" rx="2.2" ry="2.0"/><ellipse cx="281.5" cy="238.6" rx="2.2" ry="2.0"/><ellipse cx="278.3" cy="235.3" rx="2.2" ry="2.0"/><ellipse cx="281.7" cy="231.0" rx="2.2" ry="2.0"/><ellipse cx="278.8" cy="224.6" rx="2.2" ry="2.0"/><line x1="298.0" y1="175.3" x2="298.0" y2="207.2" class="wh"/><line x1="298.0" y1="236.9" x2="298.0" y2="263.3" class="wh"/><line x1="298.0" y1="175.3" x2="303.0" y2="175.3" class="cap"/><line x1="298.0" y1="263.3" x2="303.0" y2="263.3" class="cap"/><rect x="290.8" y="207.2" width="14.4" height="29.7" class="bx"/><line x1="289.6" y1="228" x2="306.4" y2="228" class="md"/><ellipse cx="296.3" cy="175.3" rx="2.2" ry="2.0"/><ellipse cx="300.7" cy="193.9" rx="2.2" ry="2.0"/><ellipse cx="301.2" cy="196.4" rx="2.2" ry="2.0"/><ellipse cx="294.3" cy="201.3" rx="2.2" ry="2.0"/><ellipse cx="301.2" cy="200.8" rx="2.2" ry="2.0"/><ellipse cx="299.7" cy="204.2" rx="2.2" ry="2.0"/><ellipse cx="294.3" cy="239.8" rx="2.2" ry="2.0"/><ellipse cx="301.2" cy="242.3" rx="2.2" ry="2.0"/><ellipse cx="295.8" cy="246.2" rx="2.2" ry="2.0"/><ellipse cx="301.2" cy="248.1" rx="2.2" ry="2.0"/><ellipse cx="296.3" cy="250.6" rx="2.2" ry="2.0"/><ellipse cx="300.7" cy="254.0" rx="2.2" ry="2.0"/><ellipse cx="295.8" cy="263.3" rx="2.2" ry="2.0"/><ellipse cx="293.5" cy="207.8" rx="2.2" ry="2.0"/><ellipse cx="293.7" cy="230.4" rx="2.2" ry="2.0"/><ellipse cx="295.6" cy="209.0" rx="2.2" ry="2.0"/><ellipse cx="293.8" cy="234.1" rx="2.2" ry="2.0"/><ellipse cx="301.7" cy="227.8" rx="2.2" ry="2.0"/><ellipse cx="295.8" cy="212.0" rx="2.2" ry="2.0"/><ellipse cx="295.9" cy="220.0" rx="2.2" ry="2.0"/><ellipse cx="294.6" cy="219.5" rx="2.2" ry="2.0"/><ellipse cx="295.6" cy="238.6" rx="2.2" ry="2.0"/><ellipse cx="302.7" cy="223.2" rx="2.2" ry="2.0"/><ellipse cx="295.4" cy="238.7" rx="2.2" ry="2.0"/><ellipse cx="296.1" cy="216.2" rx="2.2" ry="2.0"/><ellipse cx="293.0" cy="217.1" rx="2.2" ry="2.0"/><ellipse cx="297.7" cy="221.6" rx="2.2" ry="2.0"/><ellipse cx="295.0" cy="221.7" rx="2.2" ry="2.0"/><ellipse cx="293.0" cy="212.8" rx="2.2" ry="2.0"/><ellipse cx="293.9" cy="217.8" rx="2.2" ry="2.0"/><ellipse cx="293.4" cy="203.8" rx="2.2" ry="2.0"/><ellipse cx="296.0" cy="211.6" rx="2.2" ry="2.0"/><ellipse cx="298.9" cy="222.6" rx="2.2" ry="2.0"/><ellipse cx="300.5" cy="227.3" rx="2.2" ry="2.0"/><ellipse cx="300.2" cy="235.5" rx="2.2" ry="2.0"/><ellipse cx="296.9" cy="215.1" rx="2.2" ry="2.0"/><ellipse cx="302.8" cy="208.5" rx="2.2" ry="2.0"/><ellipse cx="300.2" cy="226.8" rx="2.2" ry="2.0"/><ellipse cx="293.4" cy="233.9" rx="2.2" ry="2.0"/><ellipse cx="301.9" cy="226.2" rx="2.2" ry="2.0"/><ellipse cx="300.3" cy="233.1" rx="2.2" ry="2.0"/><ellipse cx="294.4" cy="222.4" rx="2.2" ry="2.0"/><ellipse cx="298.0" cy="233.9" rx="2.2" ry="2.0"/><ellipse cx="301.0" cy="233.6" rx="2.2" ry="2.0"/><ellipse cx="298.8" cy="236.0" rx="2.2" ry="2.0"/><ellipse cx="299.8" cy="228.7" rx="2.2" ry="2.0"/><ellipse cx="295.3" cy="204.2" rx="2.2" ry="2.0"/><ellipse cx="294.3" cy="216.3" rx="2.2" ry="2.0"/><ellipse cx="294.0" cy="233.9" rx="2.2" ry="2.0"/><ellipse cx="298.6" cy="226.2" rx="2.2" ry="2.0"/><ellipse cx="299.3" cy="228.2" rx="2.2" ry="2.0"/><ellipse cx="297.9" cy="203.1" rx="2.2" ry="2.0"/><ellipse cx="301.0" cy="230.7" rx="2.2" ry="2.0"/><ellipse cx="298.0" cy="222.8" rx="2.2" ry="2.0"/><ellipse cx="299.6" cy="205.4" rx="2.2" ry="2.0"/><ellipse cx="300.4" cy="212.3" rx="2.2" ry="2.0"/><ellipse cx="293.7" cy="212.8" rx="2.2" ry="2.0"/><ellipse cx="300.3" cy="210.6" rx="2.2" ry="2.0"/><ellipse cx="300.4" cy="239.1" rx="2.2" ry="2.0"/><line x1="327.2" y1="189.7" x2="327.2" y2="215.8" class="wh"/><line x1="327.2" y1="238.8" x2="327.2" y2="263.6" class="wh"/><line x1="327.2" y1="189.7" x2="332.2" y2="189.7" class="cap"/><line x1="327.2" y1="263.6" x2="332.2" y2="263.6" class="cap"/><rect x="320.0" y="215.8" width="14.4" height="23.0" class="bx"/><line x1="318.8" y1="228.5" x2="335.6" y2="228.5" class="md"/><ellipse cx="328.1" cy="177.0" rx="2.2" ry="2.0"/><ellipse cx="328.6" cy="177.2" rx="2.2" ry="2.0"/><ellipse cx="324.7" cy="189.7" rx="2.2" ry="2.0"/><ellipse cx="325.6" cy="193.1" rx="2.2" ry="2.0"/><ellipse cx="326.1" cy="206.9" rx="2.2" ry="2.0"/><ellipse cx="330.1" cy="209.8" rx="2.2" ry="2.0"/><ellipse cx="323.7" cy="212.7" rx="2.2" ry="2.0"/><ellipse cx="324.7" cy="240.8" rx="2.2" ry="2.0"/><ellipse cx="324.2" cy="249.6" rx="2.2" ry="2.0"/><ellipse cx="329.6" cy="249.6" rx="2.2" ry="2.0"/><ellipse cx="323.7" cy="253.5" rx="2.2" ry="2.0"/><ellipse cx="330.1" cy="254.0" rx="2.2" ry="2.0"/><ellipse cx="323.7" cy="263.6" rx="2.2" ry="2.0"/><ellipse cx="327.2" cy="225.0" rx="2.2" ry="2.0"/><ellipse cx="327.1" cy="231.4" rx="2.2" ry="2.0"/><ellipse cx="329.8" cy="230.0" rx="2.2" ry="2.0"/><ellipse cx="328.6" cy="218.6" rx="2.2" ry="2.0"/><ellipse cx="323.9" cy="222.3" rx="2.2" ry="2.0"/><ellipse cx="329.6" cy="223.4" rx="2.2" ry="2.0"/><ellipse cx="327.9" cy="217.3" rx="2.2" ry="2.0"/><ellipse cx="323.1" cy="222.6" rx="2.2" ry="2.0"/><ellipse cx="328.9" cy="231.5" rx="2.2" ry="2.0"/><ellipse cx="328.9" cy="223.1" rx="2.2" ry="2.0"/><ellipse cx="327.4" cy="226.8" rx="2.2" ry="2.0"/><ellipse cx="326.9" cy="219.5" rx="2.2" ry="2.0"/><ellipse cx="331.0" cy="221.2" rx="2.2" ry="2.0"/><ellipse cx="331.8" cy="236.7" rx="2.2" ry="2.0"/><ellipse cx="322.7" cy="226.6" rx="2.2" ry="2.0"/><ellipse cx="330.3" cy="237.3" rx="2.2" ry="2.0"/><ellipse cx="326.8" cy="222.6" rx="2.2" ry="2.0"/><ellipse cx="324.5" cy="236.9" rx="2.2" ry="2.0"/><ellipse cx="324.5" cy="229.2" rx="2.2" ry="2.0"/><ellipse cx="323.8" cy="228.0" rx="2.2" ry="2.0"/><ellipse cx="331.6" cy="219.8" rx="2.2" ry="2.0"/><ellipse cx="330.3" cy="227.7" rx="2.2" ry="2.0"/><ellipse cx="330.9" cy="231.8" rx="2.2" ry="2.0"/><ellipse cx="324.7" cy="235.9" rx="2.2" ry="2.0"/><ellipse cx="327.1" cy="217.5" rx="2.2" ry="2.0"/><ellipse cx="322.5" cy="227.3" rx="2.2" ry="2.0"/><line x1="344.3" y1="159.3" x2="344.3" y2="202.5" class="wh"/><line x1="344.3" y1="236.4" x2="344.3" y2="252" class="wh"/><rect x="337.1" y="202.5" width="14.4" height="33.9" class="bx"/><line x1="335.9" y1="227" x2="352.7" y2="227" class="md"/><ellipse cx="345.7" cy="159.3" rx="2.2" ry="2.0"/><ellipse cx="341.3" cy="162.7" rx="2.2" ry="2.0"/><ellipse cx="347.7" cy="178.9" rx="2.2" ry="2.0"/><ellipse cx="341.8" cy="182.4" rx="2.2" ry="2.0"/><ellipse cx="341.3" cy="191.2" rx="2.2" ry="2.0"/><ellipse cx="347.2" cy="193.0" rx="2.2" ry="2.0"/><ellipse cx="343.3" cy="196.0" rx="2.2" ry="2.0"/><ellipse cx="347.2" cy="197.0" rx="2.2" ry="2.0"/><ellipse cx="342.3" cy="198.9" rx="2.2" ry="2.0"/><ellipse cx="348.7" cy="242.7" rx="2.2" ry="2.0"/><ellipse cx="344.1" cy="194.6" rx="2.2" ry="2.0"/><ellipse cx="341.3" cy="195.1" rx="2.2" ry="2.0"/><ellipse cx="342.8" cy="201.1" rx="2.2" ry="2.0"/><ellipse cx="340.0" cy="200.0" rx="2.2" ry="2.0"/><ellipse cx="347.6" cy="192.4" rx="2.2" ry="2.0"/><ellipse cx="348.3" cy="199.6" rx="2.2" ry="2.0"/><ellipse cx="348.1" cy="194.5" rx="2.2" ry="2.0"/><ellipse cx="343.3" cy="195.7" rx="2.2" ry="2.0"/><ellipse cx="349.0" cy="216.0" rx="2.2" ry="2.0"/><ellipse cx="343.6" cy="212.4" rx="2.2" ry="2.0"/><ellipse cx="342.8" cy="204.1" rx="2.2" ry="2.0"/><ellipse cx="341.4" cy="221.4" rx="2.2" ry="2.0"/><ellipse cx="342.9" cy="223.6" rx="2.2" ry="2.0"/><ellipse cx="342.6" cy="208.8" rx="2.2" ry="2.0"/><ellipse cx="344.8" cy="207.2" rx="2.2" ry="2.0"/><ellipse cx="343.7" cy="224.0" rx="2.2" ry="2.0"/><ellipse cx="348.0" cy="220.9" rx="2.2" ry="2.0"/><ellipse cx="345.9" cy="223.1" rx="2.2" ry="2.0"/><ellipse cx="348.5" cy="215.1" rx="2.2" ry="2.0"/><ellipse cx="346.6" cy="204.1" rx="2.2" ry="2.0"/><ellipse cx="346.7" cy="212.9" rx="2.2" ry="2.0"/><ellipse cx="346.9" cy="217.2" rx="2.2" ry="2.0"/><ellipse cx="342.9" cy="204.1" rx="2.2" ry="2.0"/><ellipse cx="348.4" cy="205.8" rx="2.2" ry="2.0"/><ellipse cx="343.9" cy="230.5" rx="2.2" ry="2.0"/><ellipse cx="341.9" cy="236.2" rx="2.2" ry="2.0"/><ellipse cx="349.7" cy="229.3" rx="2.2" ry="2.0"/><ellipse cx="346.0" cy="229.9" rx="2.2" ry="2.0"/><ellipse cx="344.9" cy="231.3" rx="2.2" ry="2.0"/><ellipse cx="340.4" cy="227.9" rx="2.2" ry="2.0"/><ellipse cx="340.9" cy="238.6" rx="2.2" ry="2.0"/><ellipse cx="344.2" cy="228.8" rx="2.2" ry="2.0"/><ellipse cx="348.9" cy="239.9" rx="2.2" ry="2.0"/><ellipse cx="343.7" cy="227.6" rx="2.2" ry="2.0"/><ellipse cx="340.7" cy="226.9" rx="2.2" ry="2.0"/><ellipse cx="342.4" cy="226.9" rx="2.2" ry="2.0"/><ellipse cx="341.2" cy="229.3" rx="2.2" ry="2.0"/><ellipse cx="345.1" cy="238.4" rx="2.2" ry="2.0"/><ellipse cx="347.1" cy="231.5" rx="2.2" ry="2.0"/><ellipse cx="343.3" cy="233.1" rx="2.2" ry="2.0"/><ellipse cx="342.8" cy="230.5" rx="2.2" ry="2.0"/><ellipse cx="339.2" cy="229.6" rx="2.2" ry="2.0"/><ellipse cx="349.6" cy="227.4" rx="2.2" ry="2.0"/><ellipse cx="344.3" cy="234.7" rx="2.2" ry="2.0"/><ellipse cx="348.4" cy="228.7" rx="2.2" ry="2.0"/><ellipse cx="341.6" cy="229.2" rx="2.2" ry="2.0"/><ellipse cx="343.1" cy="232.0" rx="2.2" ry="2.0"/><ellipse cx="349.5" cy="237.8" rx="2.2" ry="2.0"/><ellipse cx="348.5" cy="225.9" rx="2.2" ry="2.0"/><ellipse cx="338.9" cy="235.8" rx="2.2" ry="2.0"/><ellipse cx="348.8" cy="232.4" rx="2.2" ry="2.0"/><ellipse cx="345.3" cy="225.6" rx="2.2" ry="2.0"/><ellipse cx="343.0" cy="238.9" rx="2.2" ry="2.0"/><ellipse cx="348.0" cy="237.9" rx="2.2" ry="2.0"/><ellipse cx="348.3" cy="241.7" rx="2.2" ry="2.0"/><ellipse cx="340.9" cy="241.1" rx="2.2" ry="2.0"/><ellipse cx="344.4" cy="244.8" rx="2.2" ry="2.0"/><ellipse cx="348.0" cy="245.1" rx="2.2" ry="2.0"/><ellipse cx="345.5" cy="245.4" rx="2.2" ry="2.0"/><ellipse cx="343.9" cy="243.9" rx="2.2" ry="2.0"/><ellipse cx="340.3" cy="245.5" rx="2.2" ry="2.0"/><ellipse cx="342.0" cy="246.4" rx="2.2" ry="2.0"/><ellipse cx="345.5" cy="242.1" rx="2.2" ry="2.0"/><ellipse cx="341.1" cy="241.8" rx="2.2" ry="2.0"/><ellipse cx="345.0" cy="250.5" rx="2.2" ry="2.0"/><ellipse cx="342.1" cy="247.4" rx="2.2" ry="2.0"/><ellipse cx="344.4" cy="249.9" rx="2.2" ry="2.0"/><ellipse cx="343.6" cy="248.1" rx="2.2" ry="2.0"/><ellipse cx="344.8" cy="247.1" rx="2.2" ry="2.0"/><line x1="373.6" y1="201.8" x2="373.6" y2="218.6" class="wh"/><line x1="373.6" y1="238.2" x2="373.6" y2="263.2" class="wh"/><line x1="368.6" y1="201.8" x2="373.6" y2="201.8" class="cap"/><rect x="366.4" y="218.6" width="14.4" height="19.6" class="bx"/><line x1="365.2" y1="229.9" x2="382.0" y2="229.9" class="md"/><ellipse cx="376.1" cy="201.8" rx="2.2" ry="2.0"/><ellipse cx="372.6" cy="206.2" rx="2.2" ry="2.0"/><ellipse cx="371.7" cy="211.1" rx="2.2" ry="2.0"/><ellipse cx="376.1" cy="210.6" rx="2.2" ry="2.0"/><ellipse cx="371.2" cy="215.7" rx="2.2" ry="2.0"/><ellipse cx="375.6" cy="215.7" rx="2.2" ry="2.0"/><ellipse cx="372.6" cy="249.0" rx="2.2" ry="2.0"/><ellipse cx="372.6" cy="253.4" rx="2.2" ry="2.0"/><ellipse cx="371.7" cy="263.2" rx="2.2" ry="2.0"/><ellipse cx="376.1" cy="263.2" rx="2.2" ry="2.0"/><ellipse cx="371.1" cy="227.5" rx="2.2" ry="2.0"/><ellipse cx="379.0" cy="232.1" rx="2.2" ry="2.0"/><ellipse cx="378.1" cy="227.9" rx="2.2" ry="2.0"/><ellipse cx="370.3" cy="222.2" rx="2.2" ry="2.0"/><ellipse cx="379.0" cy="233.6" rx="2.2" ry="2.0"/><ellipse cx="371.2" cy="216.5" rx="2.2" ry="2.0"/><ellipse cx="373.5" cy="232.9" rx="2.2" ry="2.0"/><ellipse cx="372.5" cy="222.4" rx="2.2" ry="2.0"/><ellipse cx="375.5" cy="239.1" rx="2.2" ry="2.0"/><ellipse cx="370.2" cy="216.9" rx="2.2" ry="2.0"/><ellipse cx="371.6" cy="226.5" rx="2.2" ry="2.0"/><ellipse cx="375.7" cy="221.0" rx="2.2" ry="2.0"/><ellipse cx="377.1" cy="234.5" rx="2.2" ry="2.0"/><ellipse cx="373.6" cy="221.1" rx="2.2" ry="2.0"/><ellipse cx="379.1" cy="223.8" rx="2.2" ry="2.0"/><ellipse cx="377.3" cy="221.8" rx="2.2" ry="2.0"/><ellipse cx="370.2" cy="235.0" rx="2.2" ry="2.0"/><ellipse cx="371.0" cy="239.8" rx="2.2" ry="2.0"/><ellipse cx="373.4" cy="220.7" rx="2.2" ry="2.0"/><ellipse cx="370.2" cy="226.4" rx="2.2" ry="2.0"/><ellipse cx="375.5" cy="239.7" rx="2.2" ry="2.0"/><ellipse cx="369.3" cy="225.8" rx="2.2" ry="2.0"/><ellipse cx="370.1" cy="240.4" rx="2.2" ry="2.0"/><ellipse cx="369.2" cy="217.3" rx="2.2" ry="2.0"/><ellipse cx="368.2" cy="225.8" rx="2.2" ry="2.0"/><ellipse cx="378.3" cy="238.1" rx="2.2" ry="2.0"/><ellipse cx="376.3" cy="240.9" rx="2.2" ry="2.0"/><ellipse cx="378.7" cy="224.2" rx="2.2" ry="2.0"/><ellipse cx="369.7" cy="239.4" rx="2.2" ry="2.0"/><ellipse cx="376.5" cy="216.8" rx="2.2" ry="2.0"/><ellipse cx="375.5" cy="225.5" rx="2.2" ry="2.0"/><ellipse cx="372.0" cy="224.3" rx="2.2" ry="2.0"/><ellipse cx="369.5" cy="216.1" rx="2.2" ry="2.0"/><ellipse cx="370.9" cy="224.8" rx="2.2" ry="2.0"/><line x1="390.8" y1="144.9" x2="390.8" y2="196.9" class="wh"/><line x1="390.8" y1="233.8" x2="390.8" y2="263.2" class="wh"/><line x1="385.8" y1="144.9" x2="390.8" y2="144.9" class="cap"/><line x1="385.8" y1="263.2" x2="390.8" y2="263.2" class="cap"/><rect x="383.6" y="196.9" width="14.4" height="36.9" class="bx"/><line x1="382.4" y1="213.7" x2="399.2" y2="213.7" class="md"/><ellipse cx="394.2" cy="144.9" rx="2.2" ry="2.0"/><ellipse cx="389.8" cy="167.9" rx="2.2" ry="2.0"/><ellipse cx="386.9" cy="174.8" rx="2.2" ry="2.0"/><ellipse cx="392.3" cy="177.7" rx="2.2" ry="2.0"/><ellipse cx="389.3" cy="180.2" rx="2.2" ry="2.0"/><ellipse cx="394.7" cy="183.1" rx="2.2" ry="2.0"/><ellipse cx="388.8" cy="185.1" rx="2.2" ry="2.0"/><ellipse cx="386.9" cy="191.0" rx="2.2" ry="2.0"/><ellipse cx="391.3" cy="190.5" rx="2.2" ry="2.0"/><ellipse cx="387.4" cy="194.9" rx="2.2" ry="2.0"/><ellipse cx="392.8" cy="194.4" rx="2.2" ry="2.0"/><ellipse cx="395.2" cy="198.8" rx="2.2" ry="2.0"/><ellipse cx="388.3" cy="200.8" rx="2.2" ry="2.0"/><ellipse cx="394.2" cy="204.7" rx="2.2" ry="2.0"/><ellipse cx="388.8" cy="204.7" rx="2.2" ry="2.0"/><ellipse cx="388.3" cy="245.6" rx="2.2" ry="2.0"/><ellipse cx="394.2" cy="248.0" rx="2.2" ry="2.0"/><ellipse cx="390.3" cy="251.5" rx="2.2" ry="2.0"/><ellipse cx="391.8" cy="263.2" rx="2.2" ry="2.0"/><ellipse cx="395.6" cy="207.1" rx="2.2" ry="2.0"/><ellipse cx="395.7" cy="207.9" rx="2.2" ry="2.0"/><ellipse cx="389.9" cy="214.0" rx="2.2" ry="2.0"/><ellipse cx="394.3" cy="210.1" rx="2.2" ry="2.0"/><ellipse cx="387.0" cy="210.5" rx="2.2" ry="2.0"/><ellipse cx="390.0" cy="214.9" rx="2.2" ry="2.0"/><ellipse cx="388.3" cy="209.5" rx="2.2" ry="2.0"/><ellipse cx="395.0" cy="206.2" rx="2.2" ry="2.0"/><ellipse cx="390.4" cy="213.9" rx="2.2" ry="2.0"/><ellipse cx="393.8" cy="206.3" rx="2.2" ry="2.0"/><ellipse cx="386.8" cy="206.5" rx="2.2" ry="2.0"/><ellipse cx="395.2" cy="208.4" rx="2.2" ry="2.0"/><ellipse cx="393.6" cy="214.7" rx="2.2" ry="2.0"/><ellipse cx="389.7" cy="208.6" rx="2.2" ry="2.0"/><ellipse cx="394.7" cy="226.8" rx="2.2" ry="2.0"/><ellipse cx="389.1" cy="228.4" rx="2.2" ry="2.0"/><ellipse cx="389.5" cy="221.2" rx="2.2" ry="2.0"/><ellipse cx="387.0" cy="229.0" rx="2.2" ry="2.0"/><ellipse cx="394.3" cy="227.0" rx="2.2" ry="2.0"/><ellipse cx="394.5" cy="217.1" rx="2.2" ry="2.0"/><ellipse cx="388.9" cy="224.4" rx="2.2" ry="2.0"/><ellipse cx="394.7" cy="232.2" rx="2.2" ry="2.0"/><ellipse cx="390.1" cy="220.8" rx="2.2" ry="2.0"/><ellipse cx="390.4" cy="224.7" rx="2.2" ry="2.0"/><ellipse cx="394.4" cy="219.7" rx="2.2" ry="2.0"/><ellipse cx="393.4" cy="228.7" rx="2.2" ry="2.0"/><ellipse cx="394.1" cy="239.0" rx="2.2" ry="2.0"/><ellipse cx="391.9" cy="235.0" rx="2.2" ry="2.0"/><ellipse cx="388.9" cy="235.3" rx="2.2" ry="2.0"/><ellipse cx="393.7" cy="232.7" rx="2.2" ry="2.0"/><ellipse cx="387.6" cy="238.8" rx="2.2" ry="2.0"/><ellipse cx="388.1" cy="232.6" rx="2.2" ry="2.0"/><ellipse cx="385.9" cy="237.0" rx="2.2" ry="2.0"/><ellipse cx="388.9" cy="240.8" rx="2.2" ry="2.0"/><ellipse cx="394.8" cy="240.9" rx="2.2" ry="2.0"/><ellipse cx="388.3" cy="232.8" rx="2.2" ry="2.0"/><ellipse cx="386.5" cy="236.5" rx="2.2" ry="2.0"/><ellipse cx="393.0" cy="236.0" rx="2.2" ry="2.0"/><ellipse cx="388.0" cy="235.8" rx="2.2" ry="2.0"/><ellipse cx="392.0" cy="238.1" rx="2.2" ry="2.0"/><line x1="419.7" y1="190.3" x2="419.7" y2="213.7" class="wh"/><line x1="419.7" y1="242.2" x2="419.7" y2="263.2" class="wh"/><line x1="414.7" y1="190.3" x2="419.7" y2="190.3" class="cap"/><line x1="419.7" y1="263.2" x2="424.7" y2="263.2" class="cap"/><rect x="412.5" y="213.7" width="14.4" height="28.5" class="bx"/><line x1="411.3" y1="231.9" x2="428.1" y2="231.9" class="md"/><ellipse cx="420.6" cy="190.3" rx="2.2" ry="2.0"/><ellipse cx="421.1" cy="197.9" rx="2.2" ry="2.0"/><ellipse cx="417.6" cy="200.9" rx="2.2" ry="2.0"/><ellipse cx="420.6" cy="205.8" rx="2.2" ry="2.0"/><ellipse cx="416.7" cy="209.7" rx="2.2" ry="2.0"/><ellipse cx="422.1" cy="210.2" rx="2.2" ry="2.0"/><ellipse cx="421.1" cy="214.7" rx="2.2" ry="2.0"/><ellipse cx="418.6" cy="217.6" rx="2.2" ry="2.0"/><ellipse cx="421.1" cy="219.1" rx="2.2" ry="2.0"/><ellipse cx="418.1" cy="222.5" rx="2.2" ry="2.0"/><ellipse cx="418.1" cy="243.0" rx="2.2" ry="2.0"/><ellipse cx="421.1" cy="244.6" rx="2.2" ry="2.0"/><ellipse cx="418.6" cy="248.0" rx="2.2" ry="2.0"/><ellipse cx="421.1" cy="250.0" rx="2.2" ry="2.0"/><ellipse cx="418.6" cy="254.0" rx="2.2" ry="2.0"/><ellipse cx="419.6" cy="256.4" rx="2.2" ry="2.0"/><ellipse cx="416.7" cy="263.2" rx="2.2" ry="2.0"/><ellipse cx="422.0" cy="236.2" rx="2.2" ry="2.0"/><ellipse cx="421.2" cy="227.5" rx="2.2" ry="2.0"/><ellipse cx="422.9" cy="229.5" rx="2.2" ry="2.0"/><ellipse cx="420.3" cy="230.5" rx="2.2" ry="2.0"/><ellipse cx="421.9" cy="228.4" rx="2.2" ry="2.0"/><ellipse cx="417.1" cy="228.9" rx="2.2" ry="2.0"/><ellipse cx="416.2" cy="236.6" rx="2.2" ry="2.0"/><ellipse cx="420.4" cy="229.9" rx="2.2" ry="2.0"/><ellipse cx="418.6" cy="237.9" rx="2.2" ry="2.0"/><ellipse cx="419.7" cy="228.8" rx="2.2" ry="2.0"/><ellipse cx="422.6" cy="233.8" rx="2.2" ry="2.0"/><ellipse cx="424.4" cy="227.2" rx="2.2" ry="2.0"/><ellipse cx="419.4" cy="235.8" rx="2.2" ry="2.0"/><ellipse cx="422.9" cy="237.0" rx="2.2" ry="2.0"/><ellipse cx="415.1" cy="229.5" rx="2.2" ry="2.0"/><ellipse cx="415.9" cy="228.3" rx="2.2" ry="2.0"/><line x1="437.2" y1="154.8" x2="437.2" y2="190.6" class="wh"/><line x1="437.2" y1="223" x2="437.2" y2="241.2" class="wh"/><rect x="430.0" y="190.6" width="14.4" height="32.4" class="bx"/><line x1="428.8" y1="207.4" x2="445.6" y2="207.4" class="md"/><ellipse cx="435.8" cy="154.8" rx="2.2" ry="2.0"/><ellipse cx="440.7" cy="157.3" rx="2.2" ry="2.0"/><ellipse cx="439.7" cy="160.7" rx="2.2" ry="2.0"/><ellipse cx="433.8" cy="162.6" rx="2.2" ry="2.0"/><ellipse cx="433.8" cy="168.0" rx="2.2" ry="2.0"/><ellipse cx="437.7" cy="172.0" rx="2.2" ry="2.0"/><ellipse cx="435.3" cy="179.3" rx="2.2" ry="2.0"/><ellipse cx="439.2" cy="180.3" rx="2.2" ry="2.0"/><ellipse cx="432.8" cy="184.7" rx="2.2" ry="2.0"/><ellipse cx="439.7" cy="184.2" rx="2.2" ry="2.0"/><ellipse cx="440.2" cy="188.1" rx="2.2" ry="2.0"/><ellipse cx="437.7" cy="189.6" rx="2.2" ry="2.0"/><ellipse cx="433.8" cy="227.9" rx="2.2" ry="2.0"/><ellipse cx="439.2" cy="226.5" rx="2.2" ry="2.0"/><ellipse cx="434.8" cy="231.4" rx="2.2" ry="2.0"/><ellipse cx="440.2" cy="230.4" rx="2.2" ry="2.0"/><ellipse cx="434.3" cy="236.3" rx="2.2" ry="2.0"/><ellipse cx="440.2" cy="237.3" rx="2.2" ry="2.0"/><ellipse cx="436.8" cy="241.2" rx="2.2" ry="2.0"/><ellipse cx="440.2" cy="240.2" rx="2.2" ry="2.0"/><ellipse cx="442.7" cy="200.6" rx="2.2" ry="2.0"/><ellipse cx="442.3" cy="197.8" rx="2.2" ry="2.0"/><ellipse cx="441.6" cy="198.8" rx="2.2" ry="2.0"/><ellipse cx="435.2" cy="203.1" rx="2.2" ry="2.0"/><ellipse cx="442.4" cy="194.4" rx="2.2" ry="2.0"/><ellipse cx="438.8" cy="201.1" rx="2.2" ry="2.0"/><ellipse cx="434.8" cy="197.8" rx="2.2" ry="2.0"/><ellipse cx="434.0" cy="195.7" rx="2.2" ry="2.0"/><ellipse cx="435.2" cy="200.8" rx="2.2" ry="2.0"/><ellipse cx="439.3" cy="195.6" rx="2.2" ry="2.0"/><ellipse cx="432.6" cy="197.3" rx="2.2" ry="2.0"/><ellipse cx="439.6" cy="195.4" rx="2.2" ry="2.0"/><ellipse cx="435.8" cy="195.6" rx="2.2" ry="2.0"/><ellipse cx="440.9" cy="200.1" rx="2.2" ry="2.0"/><ellipse cx="433.2" cy="194.3" rx="2.2" ry="2.0"/><ellipse cx="436.7" cy="200.2" rx="2.2" ry="2.0"/><ellipse cx="439.2" cy="194.2" rx="2.2" ry="2.0"/><ellipse cx="434.2" cy="202.0" rx="2.2" ry="2.0"/><ellipse cx="436.8" cy="196.7" rx="2.2" ry="2.0"/><ellipse cx="435.7" cy="205.4" rx="2.2" ry="2.0"/><ellipse cx="435.8" cy="218.4" rx="2.2" ry="2.0"/><ellipse cx="436.3" cy="215.8" rx="2.2" ry="2.0"/><ellipse cx="441.6" cy="225.9" rx="2.2" ry="2.0"/><ellipse cx="436.3" cy="212.0" rx="2.2" ry="2.0"/><ellipse cx="440.1" cy="212.1" rx="2.2" ry="2.0"/><ellipse cx="432.6" cy="224.3" rx="2.2" ry="2.0"/><ellipse cx="436.9" cy="222.9" rx="2.2" ry="2.0"/><ellipse cx="436.8" cy="223.9" rx="2.2" ry="2.0"/><ellipse cx="437.3" cy="211.3" rx="2.2" ry="2.0"/><ellipse cx="432.7" cy="218.2" rx="2.2" ry="2.0"/><ellipse cx="439.2" cy="224.4" rx="2.2" ry="2.0"/><ellipse cx="433.4" cy="219.4" rx="2.2" ry="2.0"/><ellipse cx="436.4" cy="217.3" rx="2.2" ry="2.0"/><ellipse cx="434.0" cy="213.5" rx="2.2" ry="2.0"/><ellipse cx="438.0" cy="224.7" rx="2.2" ry="2.0"/><ellipse cx="433.6" cy="217.1" rx="2.2" ry="2.0"/><ellipse cx="441.0" cy="225.4" rx="2.2" ry="2.0"/><ellipse cx="434.6" cy="210.7" rx="2.2" ry="2.0"/><ellipse cx="442.4" cy="225.6" rx="2.2" ry="2.0"/><ellipse cx="437.6" cy="209.4" rx="2.2" ry="2.0"/><ellipse cx="442.2" cy="215.3" rx="2.2" ry="2.0"/><ellipse cx="442.0" cy="219.4" rx="2.2" ry="2.0"/></g>
<path d="M84.8,192.5 L84.8,192.2 Q84.8,196 88.6,196 L115.4,196 Q119.2,196 119.2,192.2 L119.2,192.5" class="br"/>
<text x="102" y="211.4" text-anchor="middle" font-size="15" font-weight="bold" textLength="37.8" lengthAdjust="spacingAndGlyphs">0.024</text>
<path d="M131.8,216.2 L131.8,216.39999999999998 Q131.8,220.2 135.60000000000002,220.2 L163.0,220.2 Q166.8,220.2 166.8,216.39999999999998 L166.8,216.2" class="br"/>
<text x="149.3" y="235.4" text-anchor="middle" font-size="15" font-weight="bold" textLength="37.8" lengthAdjust="spacingAndGlyphs">0.174</text>
<path d="M177.8,230.4 L177.8,230.6 Q177.8,234.4 181.60000000000002,234.4 L208.5,234.4 Q212.3,234.4 212.3,230.6 L212.3,230.4" class="br"/>
<text x="195.2" y="249.6" text-anchor="middle" font-size="15" font-weight="bold" textLength="37.8" lengthAdjust="spacingAndGlyphs">0.715</text>
<path d="M222.4,230.4 L222.4,230.6 Q222.4,234.4 226.20000000000002,234.4 L253.2,234.4 Q257,234.4 257,230.6 L257,230.4" class="br"/>
<text x="239.8" y="249.6" text-anchor="middle" font-size="15" font-weight="bold" textLength="37.8" lengthAdjust="spacingAndGlyphs">0.067</text>
<path d="M272.2,169.2 L272.2,169.4 Q272.2,165.6 276.0,165.6 L302.7,165.6 Q306.5,165.6 306.5,169.4 L306.5,169.2" class="br"/>
<text x="289.5" y="163.1" text-anchor="middle" font-size="15" font-weight="bold" textLength="37.8" lengthAdjust="spacingAndGlyphs">0.740</text>
<path d="M317.8,152.3 L317.8,152.3 Q317.8,148.5 321.6,148.5 L349.59999999999997,148.5 Q353.4,148.5 353.4,152.3 L353.4,152.3" class="br"/>
<text x="335.6" y="145.8" text-anchor="middle" font-size="15" font-weight="bold" textLength="37.8" lengthAdjust="spacingAndGlyphs">0.501</text>
<path d="M366.2,139.4 L366.2,139.4 Q366.2,135.6 370.0,135.6 L397.8,135.6 Q401.6,135.6 401.6,139.4 L401.6,139.4" class="br"/>
<text x="384.3" y="132.5" text-anchor="middle" font-size="15" font-weight="bold" textLength="37.8" lengthAdjust="spacingAndGlyphs">0.014</text>
<path d="M414.7,151 L414.7,150.9 Q414.7,147.1 418.5,147.1 L446.2,147.1 Q450,147.1 450,150.9 L450,151" class="br"/>
<text x="432.5" y="144.1" text-anchor="middle" font-size="15" font-weight="bold" textLength="37.8" lengthAdjust="spacingAndGlyphs">0.001</text>
<text x="13.75" y="299.5" font-size="9.6" fill="#111" textLength="57.5" lengthAdjust="spacingAndGlyphs">Donor CMV</text>
<text x="22" y="312.5" font-size="9.6" fill="#111" textLength="19.25" lengthAdjust="spacingAndGlyphs">TNF</text>
<text x="18.75" y="325.5" font-size="9.6" fill="#111" textLength="33.75" lengthAdjust="spacingAndGlyphs">CD107</text>
<text x="22" y="338" font-size="9.6" fill="#111" textLength="18.5" lengthAdjust="spacingAndGlyphs">MIP</text>
<text x="94.9" y="299.71" text-anchor="middle" font-size="10.5" fill="#222" stroke="none">-</text>
<text x="112.6" y="298.95" text-anchor="middle" font-size="9" fill="#222" stroke="none">+</text>
<text x="103.5" y="313.37" text-anchor="middle" font-size="15" fill="#222" stroke="none">-</text>
<text x="103.5" y="325.67" text-anchor="middle" font-size="15" fill="#222" stroke="none">-</text>
<text x="103.5" y="338.37" text-anchor="middle" font-size="15" fill="#222" stroke="none">-</text>
<text x="141.3" y="299.71" text-anchor="middle" font-size="10.5" fill="#222" stroke="none">-</text>
<text x="159.0" y="298.95" text-anchor="middle" font-size="9" fill="#222" stroke="none">+</text>
<text x="149.9" y="313.37" text-anchor="middle" font-size="15" fill="#222" stroke="none">-</text>
<text x="149.9" y="325.67" text-anchor="middle" font-size="15" fill="#222" stroke="none">-</text>
<text x="149.9" y="338.35" text-anchor="middle" font-size="11" fill="#222" stroke="#222" stroke-width="0.25">+</text>
<text x="187.7" y="299.71" text-anchor="middle" font-size="10.5" fill="#222" stroke="none">-</text>
<text x="205.4" y="298.95" text-anchor="middle" font-size="9" fill="#222" stroke="none">+</text>
<text x="196.3" y="313.37" text-anchor="middle" font-size="15" fill="#222" stroke="none">-</text>
<text x="196.3" y="325.65" text-anchor="middle" font-size="11" fill="#222" stroke="#222" stroke-width="0.25">+</text>
<text x="196.3" y="338.37" text-anchor="middle" font-size="15" fill="#222" stroke="none">-</text>
<text x="234.1" y="299.71" text-anchor="middle" font-size="10.5" fill="#222" stroke="none">-</text>
<text x="251.8" y="298.95" text-anchor="middle" font-size="9" fill="#222" stroke="none">+</text>
<text x="242.7" y="313.37" text-anchor="middle" font-size="15" fill="#222" stroke="none">-</text>
<text x="242.7" y="325.65" text-anchor="middle" font-size="11" fill="#222" stroke="#222" stroke-width="0.25">+</text>
<text x="242.7" y="338.35" text-anchor="middle" font-size="11" fill="#222" stroke="#222" stroke-width="0.25">+</text>
<text x="280.5" y="299.71" text-anchor="middle" font-size="10.5" fill="#222" stroke="none">-</text>
<text x="298.2" y="298.95" text-anchor="middle" font-size="9" fill="#222" stroke="none">+</text>
<text x="289.1" y="313.35" text-anchor="middle" font-size="11" fill="#222" stroke="#222" stroke-width="0.25">+</text>
<text x="289.1" y="325.67" text-anchor="middle" font-size="15" fill="#222" stroke="none">-</text>
<text x="289.1" y="338.37" text-anchor="middle" font-size="15" fill="#222" stroke="none">-</text>
<text x="326.9" y="299.71" text-anchor="middle" font-size="10.5" fill="#222" stroke="none">-</text>
<text x="344.6" y="298.95" text-anchor="middle" font-size="9" fill="#222" stroke="none">+</text>
<text x="335.5" y="313.35" text-anchor="middle" font-size="11" fill="#222" stroke="#222" stroke-width="0.25">+</text>
<text x="335.5" y="325.67" text-anchor="middle" font-size="15" fill="#222" stroke="none">-</text>
<text x="335.5" y="338.35" text-anchor="middle" font-size="11" fill="#222" stroke="#222" stroke-width="0.25">+</text>
<text x="373.3" y="299.71" text-anchor="middle" font-size="10.5" fill="#222" stroke="none">-</text>
<text x="391.0" y="298.95" text-anchor="middle" font-size="9" fill="#222" stroke="none">+</text>
<text x="381.9" y="313.35" text-anchor="middle" font-size="11" fill="#222" stroke="#222" stroke-width="0.25">+</text>
<text x="381.9" y="325.65" text-anchor="middle" font-size="11" fill="#222" stroke="#222" stroke-width="0.25">+</text>
<text x="381.9" y="338.37" text-anchor="middle" font-size="15" fill="#222" stroke="none">-</text>
<text x="419.7" y="299.71" text-anchor="middle" font-size="10.5" fill="#222" stroke="none">-</text>
<text x="437.4" y="298.95" text-anchor="middle" font-size="9" fill="#222" stroke="none">+</text>
<text x="428.3" y="313.35" text-anchor="middle" font-size="11" fill="#222" stroke="#222" stroke-width="0.25">+</text>
<text x="428.3" y="325.65" text-anchor="middle" font-size="11" fill="#222" stroke="#222" stroke-width="0.25">+</text>
<text x="428.3" y="338.35" text-anchor="middle" font-size="11" fill="#222" stroke="#222" stroke-width="0.25">+</text>
<text transform="translate(18.3,157.5) rotate(-90)" text-anchor="middle" font-size="21.3" font-weight="bold" textLength="205" lengthAdjust="spacingAndGlyphs">% IFN-<tspan class="gm" font-weight="normal" font-size="19" stroke="none">γ</tspan>-CD8<tspan font-size="13" dy="-6">+</tspan><tspan dy="6"> T Cells</tspan></text>
<text x="0.9" y="12.7" font-size="17.7" font-weight="bold">A</text>
<text x="-2.2" y="370.8" font-size="17.7" font-weight="bold">B</text>
<path d="M519.6,414.6 H70.75 V694.5 H519.6" fill="none" stroke="#3a3a3a" stroke-width="1.1"/>
<line x1="519.5" y1="414.1" x2="519.5" y2="695.0" stroke="#000" stroke-width="1.7"/>
<line x1="61.2" y1="683.6" x2="70.75" y2="683.6" stroke="#333" stroke-width="1"/>
<text transform="translate(49.3,682.8000000000001) rotate(-90)" text-anchor="middle" font-size="16.5" fill="#555" textLength="6.5" lengthAdjust="spacingAndGlyphs">0</text>
<line x1="61.2" y1="606.1" x2="70.75" y2="606.1" stroke="#333" stroke-width="1"/>
<text transform="translate(49.3,605.3000000000001) rotate(-90)" text-anchor="middle" font-size="16.5" fill="#555" textLength="6.5" lengthAdjust="spacingAndGlyphs">5</text>
<line x1="61.2" y1="529" x2="70.75" y2="529" stroke="#333" stroke-width="1"/>
<text transform="translate(49.3,528.2) rotate(-90)" text-anchor="middle" font-size="16.5" fill="#555" textLength="13.0" lengthAdjust="spacingAndGlyphs">10</text>
<line x1="61.2" y1="452" x2="70.75" y2="452" stroke="#333" stroke-width="1"/>
<text transform="translate(49.3,451.2) rotate(-90)" text-anchor="middle" font-size="16.5" fill="#555" textLength="13.0" lengthAdjust="spacingAndGlyphs">15</text>
<g class="pb"><line x1="139.5" y1="425.5" x2="139.5" y2="561.25" class="wh"/><line x1="139.5" y1="641.25" x2="139.5" y2="667" class="wh"/><line x1="118.75" y1="425.5" x2="160" y2="425.5" class="cap"/><line x1="118.75" y1="667" x2="160" y2="667" class="cap"/><rect x="97.5" y="561.25" width="83.25" height="80.0" class="bx"/><line x1="96.5" y1="598.25" x2="181.75" y2="598.25" class="md"/><ellipse cx="142.5" cy="425.5" rx="3.1" ry="2.4"/><ellipse cx="131.25" cy="483" rx="3.1" ry="2.4"/><ellipse cx="147.5" cy="498.25" rx="3.1" ry="2.4"/><ellipse cx="155.75" cy="531.25" rx="3.1" ry="2.4"/><ellipse cx="125" cy="547" rx="3.1" ry="2.4"/><ellipse cx="146.75" cy="544.5" rx="3.1" ry="2.4"/><ellipse cx="145.75" cy="548" rx="3.1" ry="2.4"/><ellipse cx="146.5" cy="551.75" rx="3.1" ry="2.4"/><ellipse cx="145.75" cy="561.25" rx="3.1" ry="2.4"/><ellipse cx="150.75" cy="561.25" rx="3.1" ry="2.4"/><ellipse cx="130.25" cy="565.75" rx="3.1" ry="2.4"/><ellipse cx="155" cy="573.75" rx="3.1" ry="2.4"/><ellipse cx="127" cy="580" rx="3.1" ry="2.4"/><ellipse cx="141.5" cy="581.75" rx="3.1" ry="2.4"/><ellipse cx="142.5" cy="592.5" rx="3.1" ry="2.4"/><ellipse cx="134.25" cy="596.25" rx="3.1" ry="2.4"/><ellipse cx="155" cy="598.75" rx="3.1" ry="2.4"/><ellipse cx="154.6" cy="599.3" rx="3.1" ry="2.4"/><ellipse cx="154.25" cy="600.5" rx="3.1" ry="2.4"/><ellipse cx="130.25" cy="601.25" rx="3.1" ry="2.4"/><ellipse cx="139.5" cy="609.5" rx="3.1" ry="2.4"/><ellipse cx="140.5" cy="615" rx="3.1" ry="2.4"/><ellipse cx="132.5" cy="622.75" rx="3.1" ry="2.4"/><ellipse cx="132.9" cy="622.4" rx="3.1" ry="2.4"/><ellipse cx="130.25" cy="629.25" rx="3.1" ry="2.4"/><ellipse cx="140.5" cy="641.25" rx="3.1" ry="2.4"/><ellipse cx="158.25" cy="643.6" rx="3.1" ry="2.4"/><ellipse cx="158.6" cy="643.9" rx="3.1" ry="2.4"/><ellipse cx="139.5" cy="648.5" rx="3.1" ry="2.4"/><ellipse cx="146.25" cy="653.75" rx="3.1" ry="2.4"/><ellipse cx="150.5" cy="656.75" rx="3.1" ry="2.4"/><ellipse cx="121.75" cy="660.75" rx="3.1" ry="2.4"/><ellipse cx="125.75" cy="663.25" rx="3.1" ry="2.4"/><ellipse cx="140.5" cy="667" rx="3.1" ry="2.4"/><line x1="243.25" y1="621.25" x2="243.25" y2="643.75" class="wh"/><line x1="243.25" y1="658.25" x2="243.25" y2="684.25" class="wh"/><line x1="222.5" y1="621.25" x2="264.5" y2="621.25" class="cap"/><line x1="222.5" y1="684.25" x2="264.5" y2="684.25" class="cap"/><rect x="201.25" y="643.75" width="83.75" height="14.5" class="bx"/><line x1="200.25" y1="650.75" x2="286" y2="650.75" class="md"/><ellipse cx="240.75" cy="621.25" rx="3.1" ry="2.4"/><ellipse cx="244.5" cy="633" rx="3.1" ry="2.4"/><ellipse cx="229.25" cy="643.75" rx="3.1" ry="2.4"/><ellipse cx="244.5" cy="648" rx="3.1" ry="2.4"/><ellipse cx="251.5" cy="647.5" rx="3.1" ry="2.4"/><ellipse cx="239.5" cy="653" rx="3.1" ry="2.4"/><ellipse cx="223" cy="657" rx="3.1" ry="2.4"/><ellipse cx="253" cy="658.25" rx="3.1" ry="2.4"/><ellipse cx="246.75" cy="674.5" rx="3.1" ry="2.4"/><ellipse cx="231.25" cy="684.25" rx="3.1" ry="2.4"/><line x1="347.5" y1="435.75" x2="347.5" y2="588.25" class="wh"/><line x1="347.5" y1="646.25" x2="347.5" y2="673" class="wh"/><line x1="326.25" y1="435.75" x2="369.5" y2="435.75" class="cap"/><line x1="326.25" y1="673" x2="369.5" y2="673" class="cap"/><rect x="305.5" y="588.25" width="83.75" height="58.0" class="bx"/><line x1="304.5" y1="635.25" x2="390.25" y2="635.25" class="md"/><ellipse cx="328" cy="435.75" rx="3.1" ry="2.4"/><ellipse cx="345.5" cy="451.75" rx="3.1" ry="2.4"/><ellipse cx="349.5" cy="458.25" rx="3.1" ry="2.4"/><ellipse cx="363.75" cy="525" rx="3.1" ry="2.4"/><ellipse cx="330" cy="543.75" rx="3.1" ry="2.4"/><ellipse cx="367" cy="557" rx="3.1" ry="2.4"/><ellipse cx="365.75" cy="560" rx="3.1" ry="2.4"/><ellipse cx="345.5" cy="571" rx="3.1" ry="2.4"/><ellipse cx="339.25" cy="588.25" rx="3.1" ry="2.4"/><ellipse cx="366.75" cy="588.25" rx="3.1" ry="2.4"/><ellipse cx="346.5" cy="592.5" rx="3.1" ry="2.4"/><ellipse cx="350.5" cy="609.25" rx="3.1" ry="2.4"/><ellipse cx="362" cy="611.25" rx="3.1" ry="2.4"/><ellipse cx="360.75" cy="613.75" rx="3.1" ry="2.4"/><ellipse cx="361.2" cy="613.3" rx="3.1" ry="2.4"/><ellipse cx="360.4" cy="614.2" rx="3.1" ry="2.4"/><ellipse cx="341.25" cy="617" rx="3.1" ry="2.4"/><ellipse cx="360.75" cy="633" rx="3.1" ry="2.4"/><ellipse cx="362.5" cy="636.25" rx="3.1" ry="2.4"/><ellipse cx="338.75" cy="637.5" rx="3.1" ry="2.4"/><ellipse cx="359.5" cy="638" rx="3.1" ry="2.4"/><ellipse cx="354.5" cy="639.5" rx="3.1" ry="2.4"/><ellipse cx="362.5" cy="640" rx="3.1" ry="2.4"/><ellipse cx="340.5" cy="641.75" rx="3.1" ry="2.4"/><ellipse cx="328.75" cy="644.5" rx="3.1" ry="2.4"/><ellipse cx="329.3" cy="644.9" rx="3.1" ry="2.4"/><ellipse cx="327" cy="645.75" rx="3.1" ry="2.4"/><ellipse cx="357.5" cy="651.5" rx="3.1" ry="2.4"/><ellipse cx="348.75" cy="659.25" rx="3.1" ry="2.4"/><ellipse cx="349.2" cy="659.6" rx="3.1" ry="2.4"/><ellipse cx="330" cy="660.5" rx="3.1" ry="2.4"/><ellipse cx="328.75" cy="668" rx="3.1" ry="2.4"/><ellipse cx="329.2" cy="668.4" rx="3.1" ry="2.4"/><ellipse cx="341.25" cy="673" rx="3.1" ry="2.4"/><ellipse cx="367" cy="673" rx="3.1" ry="2.4"/><line x1="451.5" y1="564.5" x2="451.5" y2="633" class="wh"/><line x1="451.5" y1="674.25" x2="451.5" y2="684.25" class="wh"/><line x1="431.25" y1="564.5" x2="472" y2="564.5" class="cap"/><line x1="431.25" y1="684.25" x2="472" y2="684.25" class="cap"/><rect x="409.5" y="633" width="83.5" height="41.25" class="bx"/><line x1="408.5" y1="664" x2="494" y2="664" class="md"/><ellipse cx="434" cy="564.5" rx="3.1" ry="2.4"/><ellipse cx="461.75" cy="587.5" rx="3.1" ry="2.4"/><ellipse cx="463.75" cy="596.75" rx="3.1" ry="2.4"/><ellipse cx="458.5" cy="610" rx="3.1" ry="2.4"/><ellipse cx="433" cy="620.75" rx="3.1" ry="2.4"/><ellipse cx="463.75" cy="620.5" rx="3.1" ry="2.4"/><ellipse cx="445.5" cy="627" rx="3.1" ry="2.4"/><ellipse cx="449.25" cy="641.5" rx="3.1" ry="2.4"/><ellipse cx="470.75" cy="639.5" rx="3.1" ry="2.4"/><ellipse cx="433" cy="658.6" rx="3.1" ry="2.4"/><ellipse cx="443.25" cy="660.5" rx="3.1" ry="2.4"/><ellipse cx="443.7" cy="660.9" rx="3.1" ry="2.4"/><ellipse cx="469" cy="660.5" rx="3.1" ry="2.4"/><ellipse cx="432" cy="664" rx="3.1" ry="2.4"/><ellipse cx="432.4" cy="664.3" rx="3.1" ry="2.4"/><ellipse cx="446.25" cy="663.75" rx="3.1" ry="2.4"/><ellipse cx="447.5" cy="665" rx="3.1" ry="2.4"/><ellipse cx="460.75" cy="666" rx="3.1" ry="2.4"/><ellipse cx="441" cy="667.5" rx="3.1" ry="2.4"/><ellipse cx="433.75" cy="675" rx="3.1" ry="2.4"/><ellipse cx="464.5" cy="673.25" rx="3.1" ry="2.4"/><ellipse cx="464.9" cy="673.6" rx="3.1" ry="2.4"/><ellipse cx="446.25" cy="678.25" rx="3.1" ry="2.4"/><ellipse cx="470.5" cy="679.5" rx="3.1" ry="2.4"/><ellipse cx="445" cy="682.5" rx="3.1" ry="2.4"/><ellipse cx="464.5" cy="682.5" rx="3.1" ry="2.4"/><ellipse cx="432" cy="684.25" rx="3.1" ry="2.4"/></g>
<path d="M113.2,409.4 C115.0,405.7 119.2,402.7 127.2,402.7 L180.6,402.7 C187.1,402.7 191.0,401.7 192.6,396.6 C194.2,401.7 198.1,402.7 204.6,402.7 L257.8,402.7 C265.8,402.7 270.0,405.7 271.8,409.4" class="brc"/>
<path d="M322.4,409.4 C324.2,405.7 328.4,402.7 336.4,402.7 L389.9,402.7 C396.4,402.7 400.29999999999995,401.7 401.9,396.6 C403.5,401.7 407.4,402.7 413.9,402.7 L467,402.7 C475,402.7 479.2,405.7 481,409.4" class="brc"/>
<text x="148.9" y="384.5" font-size="20.6" font-weight="bold" textLength="77.2" lengthAdjust="spacingAndGlyphs"><tspan font-style="italic">P</tspan> = .017</text>
<text x="359.8" y="384.5" font-size="20.6" font-weight="bold" textLength="76.6" lengthAdjust="spacingAndGlyphs"><tspan font-style="italic">P</tspan> = .011</text>
<text x="117.3" y="723.8" font-size="21.3" font-weight="bold" textLength="48.500000000000014" lengthAdjust="spacingAndGlyphs">D<tspan font-size="14" dy="-6.5">+</tspan><tspan dy="6.5">R</tspan><tspan font-size="14" dy="-6.5">+</tspan></text>
<text x="228.5" y="723.8" font-size="21.3" font-weight="bold" textLength="44.0" lengthAdjust="spacingAndGlyphs">D<tspan font-size="14" dy="-6.5">-</tspan><tspan dy="6.5">R</tspan><tspan font-size="14" dy="-6.5">+</tspan></text>
<text x="329.5" y="723.8" font-size="21.3" font-weight="bold" textLength="48.0" lengthAdjust="spacingAndGlyphs">D<tspan font-size="14" dy="-6.5">+</tspan><tspan dy="6.5">R</tspan><tspan font-size="14" dy="-6.5">+</tspan></text>
<text x="434.7" y="723.8" font-size="21.3" font-weight="bold" textLength="44.0" lengthAdjust="spacingAndGlyphs">D<tspan font-size="14" dy="-6.5">-</tspan><tspan dy="6.5">R</tspan><tspan font-size="14" dy="-6.5">+</tspan></text>
<rect x="155.5" y="733.3" width="102" height="31.2" fill="#fff" stroke="#2a2a2a" stroke-width="1.15"/>
<text x="161.8" y="756.6" font-size="20.6" font-weight="bold" textLength="87.5" lengthAdjust="spacingAndGlyphs">Before R</text>
<rect x="367" y="733.3" width="86.8" height="31.2" fill="#fff" stroke="#2a2a2a" stroke-width="1.15"/>
<text x="373.8" y="756.6" font-size="20.6" font-weight="bold" textLength="70.5" lengthAdjust="spacingAndGlyphs">After R</text>
<text transform="translate(18.4,571.2) rotate(-90)" text-anchor="middle" font-size="21" font-weight="bold" textLength="279.5" lengthAdjust="spacingAndGlyphs">% 4-Functional CD8<tspan font-size="13.5" dy="-6">+</tspan><tspan dy="6"> T Cells</tspan></text>
</svg></body></html>
